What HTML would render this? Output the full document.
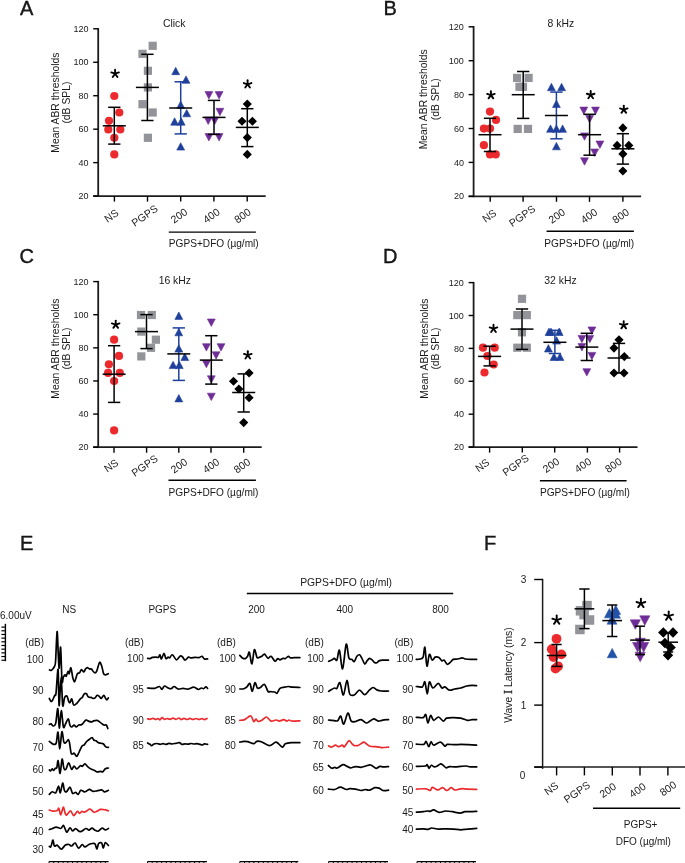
<!DOCTYPE html>
<html><head><meta charset="utf-8"><style>
html,body{margin:0;padding:0;background:#fff;width:685px;height:863px;overflow:hidden}
svg{display:block;will-change:transform}
text{font-family:"Liberation Sans",sans-serif;fill:#1a1a1a}
</style></head><body>
<svg width="685" height="863" viewBox="0 0 685 863">
<rect width="685" height="863" fill="#fff"/>
<line x1="98.20" y1="28.10" x2="98.20" y2="197.00" stroke="#1c1c1c" stroke-width="1.8" stroke-linecap="butt"/>
<line x1="93.20" y1="196.10" x2="265.70" y2="196.10" stroke="#1c1c1c" stroke-width="1.8" stroke-linecap="butt"/>
<line x1="93.20" y1="28.80" x2="98.20" y2="28.80" stroke="#000" stroke-width="1.4" stroke-linecap="butt"/>
<text x="88.50" y="31.90" font-size="9" text-anchor="end" >120</text>
<line x1="93.20" y1="62.26" x2="98.20" y2="62.26" stroke="#000" stroke-width="1.4" stroke-linecap="butt"/>
<text x="88.50" y="65.36" font-size="9" text-anchor="end" >100</text>
<line x1="93.20" y1="95.72" x2="98.20" y2="95.72" stroke="#000" stroke-width="1.4" stroke-linecap="butt"/>
<text x="88.50" y="98.82" font-size="9" text-anchor="end" >80</text>
<line x1="93.20" y1="129.18" x2="98.20" y2="129.18" stroke="#000" stroke-width="1.4" stroke-linecap="butt"/>
<text x="88.50" y="132.28" font-size="9" text-anchor="end" >60</text>
<line x1="93.20" y1="162.64" x2="98.20" y2="162.64" stroke="#000" stroke-width="1.4" stroke-linecap="butt"/>
<text x="88.50" y="165.74" font-size="9" text-anchor="end" >40</text>
<line x1="93.20" y1="196.10" x2="98.20" y2="196.10" stroke="#000" stroke-width="1.4" stroke-linecap="butt"/>
<text x="88.50" y="199.20" font-size="9" text-anchor="end" >20</text>
<line x1="114.40" y1="196.10" x2="114.40" y2="201.60" stroke="#000" stroke-width="1.4" stroke-linecap="butt"/>
<line x1="147.50" y1="196.10" x2="147.50" y2="201.60" stroke="#000" stroke-width="1.4" stroke-linecap="butt"/>
<line x1="180.70" y1="196.10" x2="180.70" y2="201.60" stroke="#000" stroke-width="1.4" stroke-linecap="butt"/>
<line x1="213.90" y1="196.10" x2="213.90" y2="201.60" stroke="#000" stroke-width="1.4" stroke-linecap="butt"/>
<line x1="247.20" y1="196.10" x2="247.20" y2="201.60" stroke="#000" stroke-width="1.4" stroke-linecap="butt"/>
<text x="113.60" y="218.70" font-size="10.5" text-anchor="middle" transform="rotate(-35 113.60 218.70)">NS</text>
<text x="146.70" y="218.70" font-size="10.5" text-anchor="middle" transform="rotate(-35 146.70 218.70)">PGPS</text>
<text x="181.10" y="218.70" font-size="10.5" text-anchor="middle" transform="rotate(-35 181.10 218.70)">200</text>
<text x="213.50" y="218.70" font-size="10.5" text-anchor="middle" transform="rotate(-35 213.50 218.70)">400</text>
<text x="244.60" y="218.70" font-size="10.5" text-anchor="middle" transform="rotate(-35 244.60 218.70)">800</text>
<line x1="168.80" y1="232.10" x2="255.90" y2="232.10" stroke="#000" stroke-width="1.4" stroke-linecap="butt"/>
<text x="168.80" y="246.60" font-size="10.15" text-anchor="start" >PGPS+DFO (µg/ml)</text>
<text x="174.15" y="27.20" font-size="10.4" text-anchor="middle" >Click</text>
<text x="19.90" y="14.60" font-size="20" text-anchor="start" stroke="#000" stroke-width="0.35">A</text>
<text x="58.90" y="102.60" font-size="10.35" text-anchor="middle" transform="rotate(-90 58.90 102.60)">Mean ABR thresholds</text>
<text x="70.50" y="102.60" font-size="10.35" text-anchor="middle" transform="rotate(-90 70.50 102.60)">(dB SPL)</text>
<circle cx="114.30" cy="96.00" r="4.1" fill="#ec2a2d"/>
<circle cx="119.30" cy="112.50" r="4.1" fill="#ec2a2d"/>
<circle cx="109.00" cy="120.80" r="4.1" fill="#ec2a2d"/>
<circle cx="108.30" cy="129.50" r="4.1" fill="#ec2a2d"/>
<circle cx="120.30" cy="129.50" r="4.1" fill="#ec2a2d"/>
<circle cx="114.30" cy="137.80" r="4.1" fill="#ec2a2d"/>
<circle cx="114.30" cy="154.40" r="4.1" fill="#ec2a2d"/>
<line x1="114.30" y1="107.30" x2="114.30" y2="144.10" stroke="#000" stroke-width="1.5" stroke-linecap="butt"/>
<line x1="108.15" y1="107.30" x2="120.45" y2="107.30" stroke="#000" stroke-width="1.5" stroke-linecap="butt"/>
<line x1="108.15" y1="144.10" x2="120.45" y2="144.10" stroke="#000" stroke-width="1.5" stroke-linecap="butt"/>
<line x1="102.80" y1="125.80" x2="125.80" y2="125.80" stroke="#000" stroke-width="1.5" stroke-linecap="butt"/>
<rect x="148.60" y="41.70" width="8.2" height="8.2" fill="#939499"/>
<rect x="138.40" y="49.70" width="8.2" height="8.2" fill="#939499"/>
<rect x="143.80" y="66.70" width="8.2" height="8.2" fill="#939499"/>
<rect x="143.80" y="83.30" width="8.2" height="8.2" fill="#939499"/>
<rect x="138.40" y="100.10" width="8.2" height="8.2" fill="#939499"/>
<rect x="148.60" y="108.40" width="8.2" height="8.2" fill="#939499"/>
<rect x="143.80" y="133.70" width="8.2" height="8.2" fill="#939499"/>
<line x1="147.40" y1="54.30" x2="147.40" y2="120.50" stroke="#000" stroke-width="1.5" stroke-linecap="butt"/>
<line x1="141.25" y1="54.30" x2="153.55" y2="54.30" stroke="#000" stroke-width="1.5" stroke-linecap="butt"/>
<line x1="141.25" y1="120.50" x2="153.55" y2="120.50" stroke="#000" stroke-width="1.5" stroke-linecap="butt"/>
<line x1="135.90" y1="87.40" x2="158.90" y2="87.40" stroke="#000" stroke-width="1.5" stroke-linecap="butt"/>
<polygon points="175.70,67.30 179.62,74.70 171.78,74.70" fill="#1e409a" stroke="#1e409a" stroke-width="0.6" stroke-linejoin="round"/>
<polygon points="186.00,75.90 189.92,83.30 182.08,83.30" fill="#1e409a" stroke="#1e409a" stroke-width="0.6" stroke-linejoin="round"/>
<polygon points="180.70,101.00 184.62,108.40 176.78,108.40" fill="#1e409a" stroke="#1e409a" stroke-width="0.6" stroke-linejoin="round"/>
<polygon points="186.70,109.40 190.62,116.80 182.78,116.80" fill="#1e409a" stroke="#1e409a" stroke-width="0.6" stroke-linejoin="round"/>
<polygon points="174.60,117.80 178.52,125.20 170.68,125.20" fill="#1e409a" stroke="#1e409a" stroke-width="0.6" stroke-linejoin="round"/>
<polygon points="181.20,117.80 185.12,125.20 177.28,125.20" fill="#1e409a" stroke="#1e409a" stroke-width="0.6" stroke-linejoin="round"/>
<polygon points="180.70,142.70 184.62,150.10 176.78,150.10" fill="#1e409a" stroke="#1e409a" stroke-width="0.6" stroke-linejoin="round"/>
<line x1="180.70" y1="81.80" x2="180.70" y2="133.90" stroke="#1e409a" stroke-width="1.5" stroke-linecap="butt"/>
<line x1="174.55" y1="81.80" x2="186.85" y2="81.80" stroke="#1e409a" stroke-width="1.5" stroke-linecap="butt"/>
<line x1="174.55" y1="133.90" x2="186.85" y2="133.90" stroke="#1e409a" stroke-width="1.5" stroke-linecap="butt"/>
<line x1="169.20" y1="108.00" x2="192.20" y2="108.00" stroke="#000" stroke-width="1.5" stroke-linecap="butt"/>
<polygon points="208.90,99.00 212.82,91.60 204.98,91.60" fill="#6f2d97" stroke="#6f2d97" stroke-width="0.6" stroke-linejoin="round"/>
<polygon points="219.10,99.00 223.02,91.60 215.18,91.60" fill="#6f2d97" stroke="#6f2d97" stroke-width="0.6" stroke-linejoin="round"/>
<polygon points="219.90,115.70 223.82,108.30 215.98,108.30" fill="#6f2d97" stroke="#6f2d97" stroke-width="0.6" stroke-linejoin="round"/>
<polygon points="208.20,124.50 212.12,117.10 204.28,117.10" fill="#6f2d97" stroke="#6f2d97" stroke-width="0.6" stroke-linejoin="round"/>
<polygon points="214.70,124.50 218.62,117.10 210.78,117.10" fill="#6f2d97" stroke="#6f2d97" stroke-width="0.6" stroke-linejoin="round"/>
<polygon points="208.90,141.00 212.82,133.60 204.98,133.60" fill="#6f2d97" stroke="#6f2d97" stroke-width="0.6" stroke-linejoin="round"/>
<polygon points="219.10,141.00 223.02,133.60 215.18,133.60" fill="#6f2d97" stroke="#6f2d97" stroke-width="0.6" stroke-linejoin="round"/>
<line x1="214.00" y1="100.40" x2="214.00" y2="134.40" stroke="#000" stroke-width="1.5" stroke-linecap="butt"/>
<line x1="207.85" y1="100.40" x2="220.15" y2="100.40" stroke="#000" stroke-width="1.5" stroke-linecap="butt"/>
<line x1="207.85" y1="134.40" x2="220.15" y2="134.40" stroke="#000" stroke-width="1.5" stroke-linecap="butt"/>
<line x1="202.50" y1="117.40" x2="225.50" y2="117.40" stroke="#000" stroke-width="1.5" stroke-linecap="butt"/>
<polygon points="247.30,99.45 251.85,104.00 247.30,108.55 242.75,104.00" fill="#000"/>
<polygon points="242.00,116.65 246.55,121.20 242.00,125.75 237.45,121.20" fill="#000"/>
<polygon points="252.40,116.65 256.95,121.20 252.40,125.75 247.85,121.20" fill="#000"/>
<polygon points="247.30,133.05 251.85,137.60 247.30,142.15 242.75,137.60" fill="#000"/>
<polygon points="247.30,149.85 251.85,154.40 247.30,158.95 242.75,154.40" fill="#000"/>
<line x1="247.30" y1="108.70" x2="247.30" y2="146.60" stroke="#000" stroke-width="1.5" stroke-linecap="butt"/>
<line x1="241.15" y1="108.70" x2="253.45" y2="108.70" stroke="#000" stroke-width="1.5" stroke-linecap="butt"/>
<line x1="241.15" y1="146.60" x2="253.45" y2="146.60" stroke="#000" stroke-width="1.5" stroke-linecap="butt"/>
<line x1="235.80" y1="127.40" x2="258.80" y2="127.40" stroke="#000" stroke-width="1.5" stroke-linecap="butt"/>
<line x1="115.10" y1="73.70" x2="115.10" y2="69.70" stroke="#000" stroke-width="1.9" stroke-linecap="round"/>
<line x1="115.10" y1="73.70" x2="118.90" y2="72.46" stroke="#000" stroke-width="1.9" stroke-linecap="round"/>
<line x1="115.10" y1="73.70" x2="117.45" y2="76.94" stroke="#000" stroke-width="1.9" stroke-linecap="round"/>
<line x1="115.10" y1="73.70" x2="112.75" y2="76.94" stroke="#000" stroke-width="1.9" stroke-linecap="round"/>
<line x1="115.10" y1="73.70" x2="111.30" y2="72.46" stroke="#000" stroke-width="1.9" stroke-linecap="round"/>
<line x1="247.60" y1="84.30" x2="247.60" y2="80.30" stroke="#000" stroke-width="1.9" stroke-linecap="round"/>
<line x1="247.60" y1="84.30" x2="251.40" y2="83.06" stroke="#000" stroke-width="1.9" stroke-linecap="round"/>
<line x1="247.60" y1="84.30" x2="249.95" y2="87.54" stroke="#000" stroke-width="1.9" stroke-linecap="round"/>
<line x1="247.60" y1="84.30" x2="245.25" y2="87.54" stroke="#000" stroke-width="1.9" stroke-linecap="round"/>
<line x1="247.60" y1="84.30" x2="243.80" y2="83.06" stroke="#000" stroke-width="1.9" stroke-linecap="round"/>
<line x1="473.60" y1="26.10" x2="473.60" y2="197.20" stroke="#1c1c1c" stroke-width="1.8" stroke-linecap="butt"/>
<line x1="468.60" y1="196.30" x2="641.10" y2="196.30" stroke="#1c1c1c" stroke-width="1.8" stroke-linecap="butt"/>
<line x1="468.60" y1="26.80" x2="473.60" y2="26.80" stroke="#000" stroke-width="1.4" stroke-linecap="butt"/>
<text x="463.90" y="29.90" font-size="9" text-anchor="end" >120</text>
<line x1="468.60" y1="60.70" x2="473.60" y2="60.70" stroke="#000" stroke-width="1.4" stroke-linecap="butt"/>
<text x="463.90" y="63.80" font-size="9" text-anchor="end" >100</text>
<line x1="468.60" y1="94.60" x2="473.60" y2="94.60" stroke="#000" stroke-width="1.4" stroke-linecap="butt"/>
<text x="463.90" y="97.70" font-size="9" text-anchor="end" >80</text>
<line x1="468.60" y1="128.50" x2="473.60" y2="128.50" stroke="#000" stroke-width="1.4" stroke-linecap="butt"/>
<text x="463.90" y="131.60" font-size="9" text-anchor="end" >60</text>
<line x1="468.60" y1="162.40" x2="473.60" y2="162.40" stroke="#000" stroke-width="1.4" stroke-linecap="butt"/>
<text x="463.90" y="165.50" font-size="9" text-anchor="end" >40</text>
<line x1="468.60" y1="196.30" x2="473.60" y2="196.30" stroke="#000" stroke-width="1.4" stroke-linecap="butt"/>
<text x="463.90" y="199.40" font-size="9" text-anchor="end" >20</text>
<line x1="490.20" y1="196.30" x2="490.20" y2="201.80" stroke="#000" stroke-width="1.4" stroke-linecap="butt"/>
<line x1="523.10" y1="196.30" x2="523.10" y2="201.80" stroke="#000" stroke-width="1.4" stroke-linecap="butt"/>
<line x1="556.50" y1="196.30" x2="556.50" y2="201.80" stroke="#000" stroke-width="1.4" stroke-linecap="butt"/>
<line x1="589.50" y1="196.30" x2="589.50" y2="201.80" stroke="#000" stroke-width="1.4" stroke-linecap="butt"/>
<line x1="622.90" y1="196.30" x2="622.90" y2="201.80" stroke="#000" stroke-width="1.4" stroke-linecap="butt"/>
<text x="491.40" y="218.90" font-size="10.5" text-anchor="middle" transform="rotate(-35 491.40 218.90)">NS</text>
<text x="524.30" y="218.90" font-size="10.5" text-anchor="middle" transform="rotate(-35 524.30 218.90)">PGPS</text>
<text x="558.90" y="218.90" font-size="10.5" text-anchor="middle" transform="rotate(-35 558.90 218.90)">200</text>
<text x="591.10" y="218.90" font-size="10.5" text-anchor="middle" transform="rotate(-35 591.10 218.90)">400</text>
<text x="622.80" y="218.90" font-size="10.5" text-anchor="middle" transform="rotate(-35 622.80 218.90)">800</text>
<line x1="546.60" y1="231.30" x2="633.90" y2="231.30" stroke="#000" stroke-width="1.4" stroke-linecap="butt"/>
<text x="544.30" y="246.90" font-size="10.15" text-anchor="start" >PGPS+DFO (µg/ml)</text>
<text x="560.80" y="27.30" font-size="10.4" text-anchor="middle" >8 kHz</text>
<text x="383.40" y="14.50" font-size="20" text-anchor="start" stroke="#000" stroke-width="0.35">B</text>
<text x="427.20" y="99.30" font-size="10.35" text-anchor="middle" transform="rotate(-90 427.20 99.30)">Mean ABR thresholds</text>
<text x="438.80" y="99.30" font-size="10.35" text-anchor="middle" transform="rotate(-90 438.80 99.30)">(dB SPL)</text>
<circle cx="490.00" cy="111.60" r="4.1" fill="#ec2a2d"/>
<circle cx="496.00" cy="119.90" r="4.1" fill="#ec2a2d"/>
<circle cx="483.90" cy="128.60" r="4.1" fill="#ec2a2d"/>
<circle cx="490.00" cy="128.60" r="4.1" fill="#ec2a2d"/>
<circle cx="483.90" cy="145.20" r="4.1" fill="#ec2a2d"/>
<circle cx="490.00" cy="154.40" r="4.1" fill="#ec2a2d"/>
<circle cx="495.70" cy="154.40" r="4.1" fill="#ec2a2d"/>
<line x1="490.00" y1="118.30" x2="490.00" y2="151.50" stroke="#000" stroke-width="1.5" stroke-linecap="butt"/>
<line x1="483.85" y1="118.30" x2="496.15" y2="118.30" stroke="#000" stroke-width="1.5" stroke-linecap="butt"/>
<line x1="483.85" y1="151.50" x2="496.15" y2="151.50" stroke="#000" stroke-width="1.5" stroke-linecap="butt"/>
<line x1="478.50" y1="134.70" x2="501.50" y2="134.70" stroke="#000" stroke-width="1.5" stroke-linecap="butt"/>
<rect x="513.00" y="73.80" width="8.2" height="8.2" fill="#939499"/>
<rect x="524.50" y="73.80" width="8.2" height="8.2" fill="#939499"/>
<rect x="515.40" y="82.70" width="8.2" height="8.2" fill="#939499"/>
<rect x="518.90" y="82.70" width="8.2" height="8.2" fill="#939499"/>
<rect x="513.60" y="124.80" width="8.2" height="8.2" fill="#939499"/>
<rect x="523.90" y="124.80" width="8.2" height="8.2" fill="#939499"/>
<line x1="523.20" y1="71.50" x2="523.20" y2="118.40" stroke="#000" stroke-width="1.5" stroke-linecap="butt"/>
<line x1="517.05" y1="71.50" x2="529.35" y2="71.50" stroke="#000" stroke-width="1.5" stroke-linecap="butt"/>
<line x1="517.05" y1="118.40" x2="529.35" y2="118.40" stroke="#000" stroke-width="1.5" stroke-linecap="butt"/>
<line x1="511.70" y1="94.70" x2="534.70" y2="94.70" stroke="#000" stroke-width="1.5" stroke-linecap="butt"/>
<polygon points="551.40,83.30 555.32,90.70 547.48,90.70" fill="#1e409a" stroke="#1e409a" stroke-width="0.6" stroke-linejoin="round"/>
<polygon points="561.60,83.30 565.52,90.70 557.68,90.70" fill="#1e409a" stroke="#1e409a" stroke-width="0.6" stroke-linejoin="round"/>
<polygon points="556.40,100.10 560.32,107.50 552.48,107.50" fill="#1e409a" stroke="#1e409a" stroke-width="0.6" stroke-linejoin="round"/>
<polygon points="550.50,124.90 554.42,132.30 546.58,132.30" fill="#1e409a" stroke="#1e409a" stroke-width="0.6" stroke-linejoin="round"/>
<polygon points="556.40,124.90 560.32,132.30 552.48,132.30" fill="#1e409a" stroke="#1e409a" stroke-width="0.6" stroke-linejoin="round"/>
<polygon points="562.60,124.90 566.52,132.30 558.68,132.30" fill="#1e409a" stroke="#1e409a" stroke-width="0.6" stroke-linejoin="round"/>
<polygon points="556.40,142.40 560.32,149.80 552.48,149.80" fill="#1e409a" stroke="#1e409a" stroke-width="0.6" stroke-linejoin="round"/>
<line x1="556.40" y1="92.10" x2="556.40" y2="138.80" stroke="#1e409a" stroke-width="1.5" stroke-linecap="butt"/>
<line x1="550.25" y1="92.10" x2="562.55" y2="92.10" stroke="#1e409a" stroke-width="1.5" stroke-linecap="butt"/>
<line x1="550.25" y1="138.80" x2="562.55" y2="138.80" stroke="#1e409a" stroke-width="1.5" stroke-linecap="butt"/>
<line x1="544.90" y1="115.50" x2="567.90" y2="115.50" stroke="#000" stroke-width="1.5" stroke-linecap="butt"/>
<polygon points="583.80,114.50 587.72,107.10 579.88,107.10" fill="#6f2d97" stroke="#6f2d97" stroke-width="0.6" stroke-linejoin="round"/>
<polygon points="595.50,114.50 599.42,107.10 591.58,107.10" fill="#6f2d97" stroke="#6f2d97" stroke-width="0.6" stroke-linejoin="round"/>
<polygon points="589.60,122.80 593.52,115.40 585.68,115.40" fill="#6f2d97" stroke="#6f2d97" stroke-width="0.6" stroke-linejoin="round"/>
<polygon points="584.50,140.30 588.42,132.90 580.58,132.90" fill="#6f2d97" stroke="#6f2d97" stroke-width="0.6" stroke-linejoin="round"/>
<polygon points="599.90,148.40 603.82,141.00 595.98,141.00" fill="#6f2d97" stroke="#6f2d97" stroke-width="0.6" stroke-linejoin="round"/>
<polygon points="594.70,156.40 598.62,149.00 590.78,149.00" fill="#6f2d97" stroke="#6f2d97" stroke-width="0.6" stroke-linejoin="round"/>
<polygon points="584.50,165.20 588.42,157.80 580.58,157.80" fill="#6f2d97" stroke="#6f2d97" stroke-width="0.6" stroke-linejoin="round"/>
<line x1="589.60" y1="114.30" x2="589.60" y2="155.20" stroke="#000" stroke-width="1.5" stroke-linecap="butt"/>
<line x1="583.45" y1="114.30" x2="595.75" y2="114.30" stroke="#000" stroke-width="1.5" stroke-linecap="butt"/>
<line x1="583.45" y1="155.20" x2="595.75" y2="155.20" stroke="#000" stroke-width="1.5" stroke-linecap="butt"/>
<line x1="578.10" y1="134.70" x2="601.10" y2="134.70" stroke="#000" stroke-width="1.5" stroke-linecap="butt"/>
<polygon points="622.90,123.35 627.45,127.90 622.90,132.45 618.35,127.90" fill="#000"/>
<polygon points="617.10,140.85 621.65,145.40 617.10,149.95 612.55,145.40" fill="#000"/>
<polygon points="628.80,140.85 633.35,145.40 628.80,149.95 624.25,145.40" fill="#000"/>
<polygon points="622.90,149.35 627.45,153.90 622.90,158.45 618.35,153.90" fill="#000"/>
<polygon points="622.90,166.45 627.45,171.00 622.90,175.55 618.35,171.00" fill="#000"/>
<line x1="622.90" y1="133.70" x2="622.90" y2="164.10" stroke="#000" stroke-width="1.5" stroke-linecap="butt"/>
<line x1="616.75" y1="133.70" x2="629.05" y2="133.70" stroke="#000" stroke-width="1.5" stroke-linecap="butt"/>
<line x1="616.75" y1="164.10" x2="629.05" y2="164.10" stroke="#000" stroke-width="1.5" stroke-linecap="butt"/>
<line x1="611.40" y1="148.80" x2="634.40" y2="148.80" stroke="#000" stroke-width="1.5" stroke-linecap="butt"/>
<line x1="490.90" y1="95.10" x2="490.90" y2="91.10" stroke="#000" stroke-width="1.9" stroke-linecap="round"/>
<line x1="490.90" y1="95.10" x2="494.70" y2="93.86" stroke="#000" stroke-width="1.9" stroke-linecap="round"/>
<line x1="490.90" y1="95.10" x2="493.25" y2="98.34" stroke="#000" stroke-width="1.9" stroke-linecap="round"/>
<line x1="490.90" y1="95.10" x2="488.55" y2="98.34" stroke="#000" stroke-width="1.9" stroke-linecap="round"/>
<line x1="490.90" y1="95.10" x2="487.10" y2="93.86" stroke="#000" stroke-width="1.9" stroke-linecap="round"/>
<line x1="590.70" y1="95.00" x2="590.70" y2="91.00" stroke="#000" stroke-width="1.9" stroke-linecap="round"/>
<line x1="590.70" y1="95.00" x2="594.50" y2="93.76" stroke="#000" stroke-width="1.9" stroke-linecap="round"/>
<line x1="590.70" y1="95.00" x2="593.05" y2="98.24" stroke="#000" stroke-width="1.9" stroke-linecap="round"/>
<line x1="590.70" y1="95.00" x2="588.35" y2="98.24" stroke="#000" stroke-width="1.9" stroke-linecap="round"/>
<line x1="590.70" y1="95.00" x2="586.90" y2="93.76" stroke="#000" stroke-width="1.9" stroke-linecap="round"/>
<line x1="623.80" y1="109.60" x2="623.80" y2="105.60" stroke="#000" stroke-width="1.9" stroke-linecap="round"/>
<line x1="623.80" y1="109.60" x2="627.60" y2="108.36" stroke="#000" stroke-width="1.9" stroke-linecap="round"/>
<line x1="623.80" y1="109.60" x2="626.15" y2="112.84" stroke="#000" stroke-width="1.9" stroke-linecap="round"/>
<line x1="623.80" y1="109.60" x2="621.45" y2="112.84" stroke="#000" stroke-width="1.9" stroke-linecap="round"/>
<line x1="623.80" y1="109.60" x2="620.00" y2="108.36" stroke="#000" stroke-width="1.9" stroke-linecap="round"/>
<line x1="98.20" y1="280.90" x2="98.20" y2="448.10" stroke="#1c1c1c" stroke-width="1.8" stroke-linecap="butt"/>
<line x1="93.20" y1="447.20" x2="261.70" y2="447.20" stroke="#1c1c1c" stroke-width="1.8" stroke-linecap="butt"/>
<line x1="93.20" y1="281.60" x2="98.20" y2="281.60" stroke="#000" stroke-width="1.4" stroke-linecap="butt"/>
<text x="88.50" y="284.70" font-size="9" text-anchor="end" >120</text>
<line x1="93.20" y1="314.72" x2="98.20" y2="314.72" stroke="#000" stroke-width="1.4" stroke-linecap="butt"/>
<text x="88.50" y="317.82" font-size="9" text-anchor="end" >100</text>
<line x1="93.20" y1="347.84" x2="98.20" y2="347.84" stroke="#000" stroke-width="1.4" stroke-linecap="butt"/>
<text x="88.50" y="350.94" font-size="9" text-anchor="end" >80</text>
<line x1="93.20" y1="380.96" x2="98.20" y2="380.96" stroke="#000" stroke-width="1.4" stroke-linecap="butt"/>
<text x="88.50" y="384.06" font-size="9" text-anchor="end" >60</text>
<line x1="93.20" y1="414.08" x2="98.20" y2="414.08" stroke="#000" stroke-width="1.4" stroke-linecap="butt"/>
<text x="88.50" y="417.18" font-size="9" text-anchor="end" >40</text>
<line x1="93.20" y1="447.20" x2="98.20" y2="447.20" stroke="#000" stroke-width="1.4" stroke-linecap="butt"/>
<text x="88.50" y="450.30" font-size="9" text-anchor="end" >20</text>
<line x1="114.00" y1="447.20" x2="114.00" y2="452.70" stroke="#000" stroke-width="1.4" stroke-linecap="butt"/>
<line x1="146.60" y1="447.20" x2="146.60" y2="452.70" stroke="#000" stroke-width="1.4" stroke-linecap="butt"/>
<line x1="178.80" y1="447.20" x2="178.80" y2="452.70" stroke="#000" stroke-width="1.4" stroke-linecap="butt"/>
<line x1="211.00" y1="447.20" x2="211.00" y2="452.70" stroke="#000" stroke-width="1.4" stroke-linecap="butt"/>
<line x1="243.70" y1="447.20" x2="243.70" y2="452.70" stroke="#000" stroke-width="1.4" stroke-linecap="butt"/>
<text x="113.20" y="468.60" font-size="10.5" text-anchor="middle" transform="rotate(-35 113.20 468.60)">NS</text>
<text x="146.80" y="468.60" font-size="10.5" text-anchor="middle" transform="rotate(-35 146.80 468.60)">PGPS</text>
<text x="181.20" y="468.60" font-size="10.5" text-anchor="middle" transform="rotate(-35 181.20 468.60)">200</text>
<text x="213.10" y="468.60" font-size="10.5" text-anchor="middle" transform="rotate(-35 213.10 468.60)">400</text>
<text x="244.10" y="468.60" font-size="10.5" text-anchor="middle" transform="rotate(-35 244.10 468.60)">800</text>
<line x1="168.50" y1="480.30" x2="255.90" y2="480.30" stroke="#000" stroke-width="1.4" stroke-linecap="butt"/>
<text x="168.50" y="495.80" font-size="10.15" text-anchor="start" >PGPS+DFO (µg/ml)</text>
<text x="174.85" y="284.40" font-size="10.4" text-anchor="middle" >16 kHz</text>
<text x="19.60" y="262.60" font-size="20" text-anchor="start" stroke="#000" stroke-width="0.35">C</text>
<text x="58.90" y="348.60" font-size="10.35" text-anchor="middle" transform="rotate(-90 58.90 348.60)">Mean ABR thresholds</text>
<text x="70.50" y="348.60" font-size="10.35" text-anchor="middle" transform="rotate(-90 70.50 348.60)">(dB SPL)</text>
<circle cx="114.10" cy="339.70" r="4.1" fill="#ec2a2d"/>
<circle cx="119.00" cy="355.90" r="4.1" fill="#ec2a2d"/>
<circle cx="108.90" cy="364.30" r="4.1" fill="#ec2a2d"/>
<circle cx="108.10" cy="372.90" r="4.1" fill="#ec2a2d"/>
<circle cx="119.80" cy="372.90" r="4.1" fill="#ec2a2d"/>
<circle cx="114.10" cy="381.00" r="4.1" fill="#ec2a2d"/>
<circle cx="114.10" cy="430.40" r="4.1" fill="#ec2a2d"/>
<line x1="114.10" y1="345.70" x2="114.10" y2="402.40" stroke="#000" stroke-width="1.5" stroke-linecap="butt"/>
<line x1="107.95" y1="345.70" x2="120.25" y2="345.70" stroke="#000" stroke-width="1.5" stroke-linecap="butt"/>
<line x1="107.95" y1="402.40" x2="120.25" y2="402.40" stroke="#000" stroke-width="1.5" stroke-linecap="butt"/>
<line x1="102.60" y1="374.20" x2="125.60" y2="374.20" stroke="#000" stroke-width="1.5" stroke-linecap="butt"/>
<rect x="136.90" y="310.90" width="8.2" height="8.2" fill="#939499"/>
<rect x="147.70" y="310.90" width="8.2" height="8.2" fill="#939499"/>
<rect x="137.20" y="327.50" width="8.2" height="8.2" fill="#939499"/>
<rect x="151.80" y="335.60" width="8.2" height="8.2" fill="#939499"/>
<rect x="146.90" y="343.70" width="8.2" height="8.2" fill="#939499"/>
<rect x="137.20" y="352.30" width="8.2" height="8.2" fill="#939499"/>
<line x1="146.50" y1="314.60" x2="146.50" y2="348.60" stroke="#000" stroke-width="1.5" stroke-linecap="butt"/>
<line x1="140.35" y1="314.60" x2="152.65" y2="314.60" stroke="#000" stroke-width="1.5" stroke-linecap="butt"/>
<line x1="140.35" y1="348.60" x2="152.65" y2="348.60" stroke="#000" stroke-width="1.5" stroke-linecap="butt"/>
<line x1="135.00" y1="331.60" x2="158.00" y2="331.60" stroke="#000" stroke-width="1.5" stroke-linecap="butt"/>
<polygon points="178.80,312.00 182.72,319.40 174.88,319.40" fill="#1e409a" stroke="#1e409a" stroke-width="0.6" stroke-linejoin="round"/>
<polygon points="178.80,328.40 182.72,335.80 174.88,335.80" fill="#1e409a" stroke="#1e409a" stroke-width="0.6" stroke-linejoin="round"/>
<polygon points="178.80,344.70 182.72,352.10 174.88,352.10" fill="#1e409a" stroke="#1e409a" stroke-width="0.6" stroke-linejoin="round"/>
<polygon points="184.80,353.10 188.72,360.50 180.88,360.50" fill="#1e409a" stroke="#1e409a" stroke-width="0.6" stroke-linejoin="round"/>
<polygon points="173.10,361.20 177.02,368.60 169.18,368.60" fill="#1e409a" stroke="#1e409a" stroke-width="0.6" stroke-linejoin="round"/>
<polygon points="179.30,361.20 183.22,368.60 175.38,368.60" fill="#1e409a" stroke="#1e409a" stroke-width="0.6" stroke-linejoin="round"/>
<polygon points="178.80,394.50 182.72,401.90 174.88,401.90" fill="#1e409a" stroke="#1e409a" stroke-width="0.6" stroke-linejoin="round"/>
<line x1="178.80" y1="327.90" x2="178.80" y2="380.40" stroke="#1e409a" stroke-width="1.5" stroke-linecap="butt"/>
<line x1="172.65" y1="327.90" x2="184.95" y2="327.90" stroke="#1e409a" stroke-width="1.5" stroke-linecap="butt"/>
<line x1="172.65" y1="380.40" x2="184.95" y2="380.40" stroke="#1e409a" stroke-width="1.5" stroke-linecap="butt"/>
<line x1="167.30" y1="353.90" x2="190.30" y2="353.90" stroke="#000" stroke-width="1.5" stroke-linecap="butt"/>
<polygon points="211.30,326.40 215.22,319.00 207.38,319.00" fill="#6f2d97" stroke="#6f2d97" stroke-width="0.6" stroke-linejoin="round"/>
<polygon points="206.40,351.10 210.32,343.70 202.48,343.70" fill="#6f2d97" stroke="#6f2d97" stroke-width="0.6" stroke-linejoin="round"/>
<polygon points="221.00,351.10 224.92,343.70 217.08,343.70" fill="#6f2d97" stroke="#6f2d97" stroke-width="0.6" stroke-linejoin="round"/>
<polygon points="216.10,359.20 220.02,351.80 212.18,351.80" fill="#6f2d97" stroke="#6f2d97" stroke-width="0.6" stroke-linejoin="round"/>
<polygon points="206.40,367.80 210.32,360.40 202.48,360.40" fill="#6f2d97" stroke="#6f2d97" stroke-width="0.6" stroke-linejoin="round"/>
<polygon points="211.30,383.20 215.22,375.80 207.38,375.80" fill="#6f2d97" stroke="#6f2d97" stroke-width="0.6" stroke-linejoin="round"/>
<polygon points="211.30,400.60 215.22,393.20 207.38,393.20" fill="#6f2d97" stroke="#6f2d97" stroke-width="0.6" stroke-linejoin="round"/>
<line x1="211.30" y1="335.70" x2="211.30" y2="384.10" stroke="#000" stroke-width="1.5" stroke-linecap="butt"/>
<line x1="205.15" y1="335.70" x2="217.45" y2="335.70" stroke="#000" stroke-width="1.5" stroke-linecap="butt"/>
<line x1="205.15" y1="384.10" x2="217.45" y2="384.10" stroke="#000" stroke-width="1.5" stroke-linecap="butt"/>
<line x1="199.80" y1="360.10" x2="222.80" y2="360.10" stroke="#000" stroke-width="1.5" stroke-linecap="butt"/>
<polygon points="249.10,368.45 253.65,373.00 249.10,377.55 244.55,373.00" fill="#000"/>
<polygon points="233.50,376.65 238.05,381.20 233.50,385.75 228.95,381.20" fill="#000"/>
<polygon points="238.90,384.45 243.45,389.00 238.90,393.55 234.35,389.00" fill="#000"/>
<polygon points="249.10,393.15 253.65,397.70 249.10,402.25 244.55,397.70" fill="#000"/>
<polygon points="243.70,418.05 248.25,422.60 243.70,427.15 239.15,422.60" fill="#000"/>
<line x1="243.70" y1="373.90" x2="243.70" y2="412.00" stroke="#000" stroke-width="1.5" stroke-linecap="butt"/>
<line x1="237.55" y1="373.90" x2="249.85" y2="373.90" stroke="#000" stroke-width="1.5" stroke-linecap="butt"/>
<line x1="237.55" y1="412.00" x2="249.85" y2="412.00" stroke="#000" stroke-width="1.5" stroke-linecap="butt"/>
<line x1="232.20" y1="392.50" x2="255.20" y2="392.50" stroke="#000" stroke-width="1.5" stroke-linecap="butt"/>
<line x1="115.70" y1="324.60" x2="115.70" y2="320.60" stroke="#000" stroke-width="1.9" stroke-linecap="round"/>
<line x1="115.70" y1="324.60" x2="119.50" y2="323.36" stroke="#000" stroke-width="1.9" stroke-linecap="round"/>
<line x1="115.70" y1="324.60" x2="118.05" y2="327.84" stroke="#000" stroke-width="1.9" stroke-linecap="round"/>
<line x1="115.70" y1="324.60" x2="113.35" y2="327.84" stroke="#000" stroke-width="1.9" stroke-linecap="round"/>
<line x1="115.70" y1="324.60" x2="111.90" y2="323.36" stroke="#000" stroke-width="1.9" stroke-linecap="round"/>
<line x1="247.80" y1="355.20" x2="247.80" y2="351.20" stroke="#000" stroke-width="1.9" stroke-linecap="round"/>
<line x1="247.80" y1="355.20" x2="251.60" y2="353.96" stroke="#000" stroke-width="1.9" stroke-linecap="round"/>
<line x1="247.80" y1="355.20" x2="250.15" y2="358.44" stroke="#000" stroke-width="1.9" stroke-linecap="round"/>
<line x1="247.80" y1="355.20" x2="245.45" y2="358.44" stroke="#000" stroke-width="1.9" stroke-linecap="round"/>
<line x1="247.80" y1="355.20" x2="244.00" y2="353.96" stroke="#000" stroke-width="1.9" stroke-linecap="round"/>
<line x1="473.60" y1="281.90" x2="473.60" y2="448.00" stroke="#1c1c1c" stroke-width="1.8" stroke-linecap="butt"/>
<line x1="468.60" y1="447.10" x2="637.50" y2="447.10" stroke="#1c1c1c" stroke-width="1.8" stroke-linecap="butt"/>
<line x1="468.60" y1="282.60" x2="473.60" y2="282.60" stroke="#000" stroke-width="1.4" stroke-linecap="butt"/>
<text x="463.90" y="285.70" font-size="9" text-anchor="end" >120</text>
<line x1="468.60" y1="315.50" x2="473.60" y2="315.50" stroke="#000" stroke-width="1.4" stroke-linecap="butt"/>
<text x="463.90" y="318.60" font-size="9" text-anchor="end" >100</text>
<line x1="468.60" y1="348.40" x2="473.60" y2="348.40" stroke="#000" stroke-width="1.4" stroke-linecap="butt"/>
<text x="463.90" y="351.50" font-size="9" text-anchor="end" >80</text>
<line x1="468.60" y1="381.30" x2="473.60" y2="381.30" stroke="#000" stroke-width="1.4" stroke-linecap="butt"/>
<text x="463.90" y="384.40" font-size="9" text-anchor="end" >60</text>
<line x1="468.60" y1="414.20" x2="473.60" y2="414.20" stroke="#000" stroke-width="1.4" stroke-linecap="butt"/>
<text x="463.90" y="417.30" font-size="9" text-anchor="end" >40</text>
<line x1="468.60" y1="447.10" x2="473.60" y2="447.10" stroke="#000" stroke-width="1.4" stroke-linecap="butt"/>
<text x="463.90" y="450.20" font-size="9" text-anchor="end" >20</text>
<line x1="489.60" y1="447.10" x2="489.60" y2="452.60" stroke="#000" stroke-width="1.4" stroke-linecap="butt"/>
<line x1="522.30" y1="447.10" x2="522.30" y2="452.60" stroke="#000" stroke-width="1.4" stroke-linecap="butt"/>
<line x1="554.70" y1="447.10" x2="554.70" y2="452.60" stroke="#000" stroke-width="1.4" stroke-linecap="butt"/>
<line x1="587.40" y1="447.10" x2="587.40" y2="452.60" stroke="#000" stroke-width="1.4" stroke-linecap="butt"/>
<line x1="619.60" y1="447.10" x2="619.60" y2="452.60" stroke="#000" stroke-width="1.4" stroke-linecap="butt"/>
<text x="484.40" y="468.20" font-size="10.5" text-anchor="middle" transform="rotate(-35 484.40 468.20)">NS</text>
<text x="517.80" y="468.20" font-size="10.5" text-anchor="middle" transform="rotate(-35 517.80 468.20)">PGPS</text>
<text x="553.10" y="468.20" font-size="10.5" text-anchor="middle" transform="rotate(-35 553.10 468.20)">200</text>
<text x="585.00" y="468.20" font-size="10.5" text-anchor="middle" transform="rotate(-35 585.00 468.20)">400</text>
<text x="615.50" y="468.20" font-size="10.5" text-anchor="middle" transform="rotate(-35 615.50 468.20)">800</text>
<line x1="539.90" y1="480.80" x2="626.60" y2="480.80" stroke="#000" stroke-width="1.4" stroke-linecap="butt"/>
<text x="539.90" y="496.10" font-size="10.15" text-anchor="start" >PGPS+DFO (µg/ml)</text>
<text x="560.45" y="284.40" font-size="10.4" text-anchor="middle" >32 kHz</text>
<text x="382.90" y="262.60" font-size="20" text-anchor="start" stroke="#000" stroke-width="0.35">D</text>
<text x="427.60" y="348.60" font-size="10.35" text-anchor="middle" transform="rotate(-90 427.60 348.60)">Mean ABR thresholds</text>
<text x="439.20" y="348.60" font-size="10.35" text-anchor="middle" transform="rotate(-90 439.20 348.60)">(dB SPL)</text>
<circle cx="483.00" cy="347.70" r="4.1" fill="#ec2a2d"/>
<circle cx="494.70" cy="347.70" r="4.1" fill="#ec2a2d"/>
<circle cx="487.40" cy="356.00" r="4.1" fill="#ec2a2d"/>
<circle cx="493.70" cy="364.50" r="4.1" fill="#ec2a2d"/>
<circle cx="484.50" cy="372.50" r="4.1" fill="#ec2a2d"/>
<line x1="489.60" y1="346.20" x2="489.60" y2="365.90" stroke="#000" stroke-width="1.5" stroke-linecap="butt"/>
<line x1="483.45" y1="346.20" x2="495.75" y2="346.20" stroke="#000" stroke-width="1.5" stroke-linecap="butt"/>
<line x1="483.45" y1="365.90" x2="495.75" y2="365.90" stroke="#000" stroke-width="1.5" stroke-linecap="butt"/>
<line x1="478.10" y1="356.40" x2="501.10" y2="356.40" stroke="#000" stroke-width="1.5" stroke-linecap="butt"/>
<rect x="517.90" y="294.70" width="8.2" height="8.2" fill="#939499"/>
<rect x="513.20" y="311.00" width="8.2" height="8.2" fill="#939499"/>
<rect x="522.70" y="311.00" width="8.2" height="8.2" fill="#939499"/>
<rect x="517.90" y="328.20" width="8.2" height="8.2" fill="#939499"/>
<rect x="513.20" y="343.60" width="8.2" height="8.2" fill="#939499"/>
<rect x="522.70" y="343.60" width="8.2" height="8.2" fill="#939499"/>
<line x1="522.00" y1="309.00" x2="522.00" y2="349.40" stroke="#000" stroke-width="1.5" stroke-linecap="butt"/>
<line x1="515.85" y1="309.00" x2="528.15" y2="309.00" stroke="#000" stroke-width="1.5" stroke-linecap="butt"/>
<line x1="515.85" y1="349.40" x2="528.15" y2="349.40" stroke="#000" stroke-width="1.5" stroke-linecap="butt"/>
<line x1="510.50" y1="329.10" x2="533.50" y2="329.10" stroke="#000" stroke-width="1.5" stroke-linecap="butt"/>
<polygon points="549.00,328.10 552.92,335.50 545.08,335.50" fill="#1e409a" stroke="#1e409a" stroke-width="0.6" stroke-linejoin="round"/>
<polygon points="551.00,328.10 554.92,335.50 547.08,335.50" fill="#1e409a" stroke="#1e409a" stroke-width="0.6" stroke-linejoin="round"/>
<polygon points="559.20,328.10 563.12,335.50 555.28,335.50" fill="#1e409a" stroke="#1e409a" stroke-width="0.6" stroke-linejoin="round"/>
<polygon points="556.60,336.70 560.52,344.10 552.68,344.10" fill="#1e409a" stroke="#1e409a" stroke-width="0.6" stroke-linejoin="round"/>
<polygon points="548.40,344.60 552.32,352.00 544.48,352.00" fill="#1e409a" stroke="#1e409a" stroke-width="0.6" stroke-linejoin="round"/>
<polygon points="554.00,353.10 557.92,360.50 550.08,360.50" fill="#1e409a" stroke="#1e409a" stroke-width="0.6" stroke-linejoin="round"/>
<polygon points="560.00,353.10 563.92,360.50 556.08,360.50" fill="#1e409a" stroke="#1e409a" stroke-width="0.6" stroke-linejoin="round"/>
<line x1="554.90" y1="330.30" x2="554.90" y2="353.50" stroke="#1e409a" stroke-width="1.5" stroke-linecap="butt"/>
<line x1="548.75" y1="330.30" x2="561.05" y2="330.30" stroke="#1e409a" stroke-width="1.5" stroke-linecap="butt"/>
<line x1="548.75" y1="353.50" x2="561.05" y2="353.50" stroke="#1e409a" stroke-width="1.5" stroke-linecap="butt"/>
<line x1="543.40" y1="342.30" x2="566.40" y2="342.30" stroke="#000" stroke-width="1.5" stroke-linecap="butt"/>
<polygon points="591.90,334.30 595.82,326.90 587.98,326.90" fill="#6f2d97" stroke="#6f2d97" stroke-width="0.6" stroke-linejoin="round"/>
<polygon points="581.90,342.80 585.82,335.40 577.98,335.40" fill="#6f2d97" stroke="#6f2d97" stroke-width="0.6" stroke-linejoin="round"/>
<polygon points="589.80,342.80 593.72,335.40 585.88,335.40" fill="#6f2d97" stroke="#6f2d97" stroke-width="0.6" stroke-linejoin="round"/>
<polygon points="581.90,351.00 585.82,343.60 577.98,343.60" fill="#6f2d97" stroke="#6f2d97" stroke-width="0.6" stroke-linejoin="round"/>
<polygon points="591.90,359.80 595.82,352.40 587.98,352.40" fill="#6f2d97" stroke="#6f2d97" stroke-width="0.6" stroke-linejoin="round"/>
<polygon points="586.80,376.10 590.72,368.70 582.88,368.70" fill="#6f2d97" stroke="#6f2d97" stroke-width="0.6" stroke-linejoin="round"/>
<line x1="586.80" y1="333.30" x2="586.80" y2="360.50" stroke="#000" stroke-width="1.5" stroke-linecap="butt"/>
<line x1="580.65" y1="333.30" x2="592.95" y2="333.30" stroke="#000" stroke-width="1.5" stroke-linecap="butt"/>
<line x1="580.65" y1="360.50" x2="592.95" y2="360.50" stroke="#000" stroke-width="1.5" stroke-linecap="butt"/>
<line x1="575.30" y1="347.10" x2="598.30" y2="347.10" stroke="#000" stroke-width="1.5" stroke-linecap="butt"/>
<polygon points="619.00,335.15 623.55,339.70 619.00,344.25 614.45,339.70" fill="#000"/>
<polygon points="614.00,343.55 618.55,348.10 614.00,352.65 609.45,348.10" fill="#000"/>
<polygon points="624.30,352.05 628.85,356.60 624.30,361.15 619.75,356.60" fill="#000"/>
<polygon points="614.00,368.45 618.55,373.00 614.00,377.55 609.45,373.00" fill="#000"/>
<polygon points="624.00,368.45 628.55,373.00 624.00,377.55 619.45,373.00" fill="#000"/>
<line x1="619.00" y1="343.40" x2="619.00" y2="373.00" stroke="#000" stroke-width="1.5" stroke-linecap="butt"/>
<line x1="612.85" y1="343.40" x2="625.15" y2="343.40" stroke="#000" stroke-width="1.5" stroke-linecap="butt"/>
<line x1="612.85" y1="373.00" x2="625.15" y2="373.00" stroke="#000" stroke-width="1.5" stroke-linecap="butt"/>
<line x1="607.50" y1="358.00" x2="630.50" y2="358.00" stroke="#000" stroke-width="1.5" stroke-linecap="butt"/>
<line x1="493.50" y1="328.70" x2="493.50" y2="324.70" stroke="#000" stroke-width="1.9" stroke-linecap="round"/>
<line x1="493.50" y1="328.70" x2="497.30" y2="327.46" stroke="#000" stroke-width="1.9" stroke-linecap="round"/>
<line x1="493.50" y1="328.70" x2="495.85" y2="331.94" stroke="#000" stroke-width="1.9" stroke-linecap="round"/>
<line x1="493.50" y1="328.70" x2="491.15" y2="331.94" stroke="#000" stroke-width="1.9" stroke-linecap="round"/>
<line x1="493.50" y1="328.70" x2="489.70" y2="327.46" stroke="#000" stroke-width="1.9" stroke-linecap="round"/>
<line x1="623.70" y1="325.10" x2="623.70" y2="321.10" stroke="#000" stroke-width="1.9" stroke-linecap="round"/>
<line x1="623.70" y1="325.10" x2="627.50" y2="323.86" stroke="#000" stroke-width="1.9" stroke-linecap="round"/>
<line x1="623.70" y1="325.10" x2="626.05" y2="328.34" stroke="#000" stroke-width="1.9" stroke-linecap="round"/>
<line x1="623.70" y1="325.10" x2="621.35" y2="328.34" stroke="#000" stroke-width="1.9" stroke-linecap="round"/>
<line x1="623.70" y1="325.10" x2="619.90" y2="323.86" stroke="#000" stroke-width="1.9" stroke-linecap="round"/>
<line x1="542.60" y1="578.80" x2="542.60" y2="768.90" stroke="#1c1c1c" stroke-width="1.5" stroke-linecap="butt"/>
<line x1="534.20" y1="767.10" x2="685.00" y2="767.10" stroke="#1c1c1c" stroke-width="1.5" stroke-linecap="butt"/>
<line x1="534.20" y1="579.50" x2="542.60" y2="579.50" stroke="#000" stroke-width="1.4" stroke-linecap="butt"/>
<line x1="534.20" y1="642.60" x2="542.60" y2="642.60" stroke="#000" stroke-width="1.4" stroke-linecap="butt"/>
<line x1="534.20" y1="705.10" x2="542.60" y2="705.10" stroke="#000" stroke-width="1.4" stroke-linecap="butt"/>
<line x1="534.20" y1="767.10" x2="542.60" y2="767.10" stroke="#000" stroke-width="1.4" stroke-linecap="butt"/>
<text x="526.20" y="583.10" font-size="10" text-anchor="end" >3</text>
<text x="526.20" y="646.20" font-size="10" text-anchor="end" >2</text>
<text x="526.20" y="708.70" font-size="10" text-anchor="end" >1</text>
<text x="525.30" y="778.60" font-size="10" text-anchor="end" >0</text>
<line x1="556.60" y1="767.10" x2="556.60" y2="775.40" stroke="#000" stroke-width="1.4" stroke-linecap="butt"/>
<line x1="584.40" y1="767.10" x2="584.40" y2="775.40" stroke="#000" stroke-width="1.4" stroke-linecap="butt"/>
<line x1="612.30" y1="767.10" x2="612.30" y2="775.40" stroke="#000" stroke-width="1.4" stroke-linecap="butt"/>
<line x1="640.00" y1="767.10" x2="640.00" y2="775.40" stroke="#000" stroke-width="1.4" stroke-linecap="butt"/>
<line x1="667.90" y1="767.10" x2="667.90" y2="775.40" stroke="#000" stroke-width="1.4" stroke-linecap="butt"/>
<text x="553.36" y="791.48" font-size="10.5" text-anchor="middle" transform="rotate(-35 553.36 791.48)">NS</text>
<text x="578.96" y="795.08" font-size="10.5" text-anchor="middle" transform="rotate(-35 578.96 795.08)">PGPS</text>
<text x="609.86" y="793.28" font-size="10.5" text-anchor="middle" transform="rotate(-35 609.86 793.28)">200</text>
<text x="639.56" y="793.28" font-size="10.5" text-anchor="middle" transform="rotate(-35 639.56 793.28)">400</text>
<text x="670.16" y="791.48" font-size="10.5" text-anchor="middle" transform="rotate(-35 670.16 791.48)">800</text>
<line x1="593.00" y1="808.30" x2="680.20" y2="808.30" stroke="#000" stroke-width="1.4" stroke-linecap="butt"/>
<text x="640.60" y="828.40" font-size="10" text-anchor="middle" >PGPS+</text>
<text x="643.30" y="844.80" font-size="10" text-anchor="middle" >DFO (µg/ml)</text>
<text x="484.00" y="550.20" font-size="20" text-anchor="start" stroke="#000" stroke-width="0.35">F</text>
<text x="512.3" y="675.1" font-size="10.35" text-anchor="middle" transform="rotate(-90 512.3 675.1)">Wave <tspan font-family="Liberation Serif" font-size="11.8" stroke="#1a1a1a" stroke-width="0.35">I</tspan> Latency (ms)</text>
<circle cx="556.50" cy="638.80" r="4.9" fill="#ec2a2d"/>
<circle cx="551.80" cy="649.20" r="4.9" fill="#ec2a2d"/>
<circle cx="561.30" cy="654.40" r="4.9" fill="#ec2a2d"/>
<circle cx="553.50" cy="657.00" r="4.9" fill="#ec2a2d"/>
<circle cx="558.10" cy="666.30" r="4.9" fill="#ec2a2d"/>
<circle cx="555.50" cy="668.50" r="4.9" fill="#ec2a2d"/>
<line x1="556.60" y1="644.50" x2="556.60" y2="666.40" stroke="#000" stroke-width="1.5" stroke-linecap="butt"/>
<line x1="551.50" y1="644.50" x2="561.70" y2="644.50" stroke="#000" stroke-width="1.5" stroke-linecap="butt"/>
<line x1="551.50" y1="666.40" x2="561.70" y2="666.40" stroke="#000" stroke-width="1.5" stroke-linecap="butt"/>
<line x1="546.75" y1="655.50" x2="566.45" y2="655.50" stroke="#000" stroke-width="1.5" stroke-linecap="butt"/>
<rect x="582.25" y="600.85" width="9.5" height="9.5" fill="#939499"/>
<rect x="575.75" y="606.05" width="9.5" height="9.5" fill="#939499"/>
<rect x="579.35" y="609.85" width="9.5" height="9.5" fill="#939499"/>
<rect x="584.75" y="615.25" width="9.5" height="9.5" fill="#939499"/>
<rect x="575.15" y="624.75" width="9.5" height="9.5" fill="#939499"/>
<line x1="584.40" y1="589.00" x2="584.40" y2="628.60" stroke="#000" stroke-width="1.5" stroke-linecap="butt"/>
<line x1="579.25" y1="589.00" x2="589.55" y2="589.00" stroke="#000" stroke-width="1.5" stroke-linecap="butt"/>
<line x1="579.25" y1="628.60" x2="589.55" y2="628.60" stroke="#000" stroke-width="1.5" stroke-linecap="butt"/>
<line x1="574.55" y1="608.80" x2="594.25" y2="608.80" stroke="#000" stroke-width="1.5" stroke-linecap="butt"/>
<polygon points="609.40,608.55 614.33,617.85 604.47,617.85" fill="#2253a8" stroke="#2253a8" stroke-width="0.6" stroke-linejoin="round"/>
<polygon points="615.70,605.15 620.63,614.45 610.77,614.45" fill="#2253a8" stroke="#2253a8" stroke-width="0.6" stroke-linejoin="round"/>
<polygon points="615.50,608.85 620.43,618.15 610.57,618.15" fill="#2253a8" stroke="#2253a8" stroke-width="0.6" stroke-linejoin="round"/>
<polygon points="612.00,614.85 616.93,624.15 607.07,624.15" fill="#2253a8" stroke="#2253a8" stroke-width="0.6" stroke-linejoin="round"/>
<polygon points="612.20,648.45 617.13,657.75 607.27,657.75" fill="#2253a8" stroke="#2253a8" stroke-width="0.6" stroke-linejoin="round"/>
<line x1="612.20" y1="605.00" x2="612.20" y2="636.50" stroke="#000" stroke-width="1.5" stroke-linecap="butt"/>
<line x1="607.05" y1="605.00" x2="617.35" y2="605.00" stroke="#000" stroke-width="1.5" stroke-linecap="butt"/>
<line x1="607.05" y1="636.50" x2="617.35" y2="636.50" stroke="#000" stroke-width="1.5" stroke-linecap="butt"/>
<line x1="602.35" y1="620.60" x2="622.05" y2="620.60" stroke="#000" stroke-width="1.5" stroke-linecap="butt"/>
<polygon points="644.80,625.35 649.83,615.85 639.76,615.85" fill="#6f2d97" stroke="#6f2d97" stroke-width="0.6" stroke-linejoin="round"/>
<polygon points="635.30,629.35 640.33,619.85 630.26,619.85" fill="#6f2d97" stroke="#6f2d97" stroke-width="0.6" stroke-linejoin="round"/>
<polygon points="640.30,647.75 645.33,638.25 635.26,638.25" fill="#6f2d97" stroke="#6f2d97" stroke-width="0.6" stroke-linejoin="round"/>
<polygon points="637.60,652.05 642.63,642.55 632.57,642.55" fill="#6f2d97" stroke="#6f2d97" stroke-width="0.6" stroke-linejoin="round"/>
<polygon points="643.60,652.05 648.63,642.55 638.57,642.55" fill="#6f2d97" stroke="#6f2d97" stroke-width="0.6" stroke-linejoin="round"/>
<polygon points="640.20,661.75 645.24,652.25 635.17,652.25" fill="#6f2d97" stroke="#6f2d97" stroke-width="0.6" stroke-linejoin="round"/>
<line x1="640.00" y1="626.20" x2="640.00" y2="654.60" stroke="#000" stroke-width="1.5" stroke-linecap="butt"/>
<line x1="635.05" y1="626.20" x2="644.95" y2="626.20" stroke="#000" stroke-width="1.5" stroke-linecap="butt"/>
<line x1="635.05" y1="654.60" x2="644.95" y2="654.60" stroke="#000" stroke-width="1.5" stroke-linecap="butt"/>
<line x1="630.15" y1="640.10" x2="649.85" y2="640.10" stroke="#000" stroke-width="1.5" stroke-linecap="butt"/>
<polygon points="663.30,627.30 668.50,632.50 663.30,637.70 658.10,632.50" fill="#000"/>
<polygon points="673.00,627.30 678.20,632.50 673.00,637.70 667.80,632.50" fill="#000"/>
<polygon points="664.90,637.80 670.10,643.00 664.90,648.20 659.70,643.00" fill="#000"/>
<polygon points="670.60,642.20 675.80,647.40 670.60,652.60 665.40,647.40" fill="#000"/>
<polygon points="668.00,650.00 673.20,655.20 668.00,660.40 662.80,655.20" fill="#000"/>
<line x1="668.20" y1="633.10" x2="668.20" y2="652.00" stroke="#000" stroke-width="1.5" stroke-linecap="butt"/>
<line x1="663.20" y1="633.10" x2="673.20" y2="633.10" stroke="#000" stroke-width="1.5" stroke-linecap="butt"/>
<line x1="663.20" y1="652.00" x2="673.20" y2="652.00" stroke="#000" stroke-width="1.5" stroke-linecap="butt"/>
<line x1="658.40" y1="642.20" x2="678.00" y2="642.20" stroke="#000" stroke-width="1.5" stroke-linecap="butt"/>
<line x1="556.70" y1="620.10" x2="556.70" y2="615.50" stroke="#000" stroke-width="1.9" stroke-linecap="round"/>
<line x1="556.70" y1="620.10" x2="561.07" y2="618.68" stroke="#000" stroke-width="1.9" stroke-linecap="round"/>
<line x1="556.70" y1="620.10" x2="559.40" y2="623.82" stroke="#000" stroke-width="1.9" stroke-linecap="round"/>
<line x1="556.70" y1="620.10" x2="554.00" y2="623.82" stroke="#000" stroke-width="1.9" stroke-linecap="round"/>
<line x1="556.70" y1="620.10" x2="552.33" y2="618.68" stroke="#000" stroke-width="1.9" stroke-linecap="round"/>
<line x1="640.90" y1="603.40" x2="640.90" y2="598.80" stroke="#000" stroke-width="1.9" stroke-linecap="round"/>
<line x1="640.90" y1="603.40" x2="645.27" y2="601.98" stroke="#000" stroke-width="1.9" stroke-linecap="round"/>
<line x1="640.90" y1="603.40" x2="643.60" y2="607.12" stroke="#000" stroke-width="1.9" stroke-linecap="round"/>
<line x1="640.90" y1="603.40" x2="638.20" y2="607.12" stroke="#000" stroke-width="1.9" stroke-linecap="round"/>
<line x1="640.90" y1="603.40" x2="636.53" y2="601.98" stroke="#000" stroke-width="1.9" stroke-linecap="round"/>
<line x1="668.70" y1="616.10" x2="668.70" y2="611.50" stroke="#000" stroke-width="1.9" stroke-linecap="round"/>
<line x1="668.70" y1="616.10" x2="673.07" y2="614.68" stroke="#000" stroke-width="1.9" stroke-linecap="round"/>
<line x1="668.70" y1="616.10" x2="671.40" y2="619.82" stroke="#000" stroke-width="1.9" stroke-linecap="round"/>
<line x1="668.70" y1="616.10" x2="666.00" y2="619.82" stroke="#000" stroke-width="1.9" stroke-linecap="round"/>
<line x1="668.70" y1="616.10" x2="664.33" y2="614.68" stroke="#000" stroke-width="1.9" stroke-linecap="round"/>
<text x="20.10" y="549.80" font-size="20" text-anchor="start" stroke="#000" stroke-width="0.35">E</text>
<text x="0.00" y="618.90" font-size="10" text-anchor="start" >6.00uV</text>
<line x1="5.40" y1="623.80" x2="5.40" y2="661.20" stroke="#000" stroke-width="1.4" stroke-linecap="butt"/>
<line x1="1.40" y1="627.10" x2="5.40" y2="627.10" stroke="#000" stroke-width="1.2" stroke-linecap="butt"/>
<line x1="1.40" y1="630.78" x2="5.40" y2="630.78" stroke="#000" stroke-width="1.2" stroke-linecap="butt"/>
<line x1="1.40" y1="634.46" x2="5.40" y2="634.46" stroke="#000" stroke-width="1.2" stroke-linecap="butt"/>
<line x1="1.40" y1="638.14" x2="5.40" y2="638.14" stroke="#000" stroke-width="1.2" stroke-linecap="butt"/>
<line x1="1.40" y1="641.82" x2="5.40" y2="641.82" stroke="#000" stroke-width="1.2" stroke-linecap="butt"/>
<line x1="1.40" y1="645.50" x2="5.40" y2="645.50" stroke="#000" stroke-width="1.2" stroke-linecap="butt"/>
<line x1="1.40" y1="649.18" x2="5.40" y2="649.18" stroke="#000" stroke-width="1.2" stroke-linecap="butt"/>
<line x1="1.40" y1="652.86" x2="5.40" y2="652.86" stroke="#000" stroke-width="1.2" stroke-linecap="butt"/>
<line x1="1.40" y1="656.54" x2="5.40" y2="656.54" stroke="#000" stroke-width="1.2" stroke-linecap="butt"/>
<line x1="1.40" y1="660.22" x2="5.40" y2="660.22" stroke="#000" stroke-width="1.2" stroke-linecap="butt"/>
<text x="69.20" y="612.70" font-size="10" text-anchor="middle" >NS</text>
<text x="162.30" y="612.60" font-size="10" text-anchor="middle" >PGPS</text>
<text x="346.10" y="586.40" font-size="10.35" text-anchor="middle" >PGPS+DFO (µg/ml)</text>
<line x1="246.80" y1="593.50" x2="453.20" y2="593.50" stroke="#000" stroke-width="1.4" stroke-linecap="butt"/>
<text x="256.60" y="612.70" font-size="10" text-anchor="middle" >200</text>
<text x="344.80" y="612.70" font-size="10" text-anchor="middle" >400</text>
<text x="440.60" y="612.70" font-size="10" text-anchor="middle" >800</text>
<text x="44.10" y="646.30" font-size="10" text-anchor="end" >(dB)</text>
<text x="43.50" y="662.70" font-size="10" text-anchor="end" >100</text>
<text x="43.50" y="694.20" font-size="10" text-anchor="end" >90</text>
<text x="43.50" y="725.40" font-size="10" text-anchor="end" >80</text>
<text x="43.50" y="750.50" font-size="10" text-anchor="end" >70</text>
<text x="43.50" y="773.40" font-size="10" text-anchor="end" >60</text>
<text x="43.50" y="795.40" font-size="10" text-anchor="end" >50</text>
<text x="43.50" y="817.50" font-size="10" text-anchor="end" >45</text>
<text x="43.50" y="835.00" font-size="10" text-anchor="end" >40</text>
<text x="43.50" y="853.20" font-size="10" text-anchor="end" >30</text>
<text x="143.80" y="646.30" font-size="10" text-anchor="end" >(dB)</text>
<text x="143.80" y="661.60" font-size="10" text-anchor="end" >100</text>
<text x="143.80" y="692.50" font-size="10" text-anchor="end" >95</text>
<text x="143.80" y="724.10" font-size="10" text-anchor="end" >90</text>
<text x="143.80" y="748.90" font-size="10" text-anchor="end" >85</text>
<text x="235.90" y="646.30" font-size="10" text-anchor="end" >(dB)</text>
<text x="235.90" y="661.60" font-size="10" text-anchor="end" >100</text>
<text x="235.90" y="692.50" font-size="10" text-anchor="end" >90</text>
<text x="235.90" y="724.10" font-size="10" text-anchor="end" >85</text>
<text x="235.90" y="749.00" font-size="10" text-anchor="end" >80</text>
<text x="323.90" y="646.30" font-size="10" text-anchor="end" >(dB)</text>
<text x="323.90" y="661.60" font-size="10" text-anchor="end" >100</text>
<text x="323.90" y="692.50" font-size="10" text-anchor="end" >90</text>
<text x="323.90" y="724.10" font-size="10" text-anchor="end" >80</text>
<text x="323.90" y="749.00" font-size="10" text-anchor="end" >70</text>
<text x="323.90" y="770.80" font-size="10" text-anchor="end" >65</text>
<text x="323.90" y="793.70" font-size="10" text-anchor="end" >60</text>
<text x="413.30" y="646.30" font-size="10" text-anchor="end" >(dB)</text>
<text x="413.30" y="661.60" font-size="10" text-anchor="end" >100</text>
<text x="413.30" y="692.50" font-size="10" text-anchor="end" >90</text>
<text x="413.30" y="724.10" font-size="10" text-anchor="end" >80</text>
<text x="413.30" y="749.00" font-size="10" text-anchor="end" >70</text>
<text x="413.30" y="770.80" font-size="10" text-anchor="end" >60</text>
<text x="413.30" y="793.70" font-size="10" text-anchor="end" >50</text>
<text x="413.30" y="815.90" font-size="10" text-anchor="end" >45</text>
<text x="413.30" y="833.20" font-size="10" text-anchor="end" >40</text>
<path d="M49.50,669.90 C49.76,670.00 50.57,670.64 51.10,670.50 C51.63,670.36 52.24,669.70 52.80,669.00 C53.36,668.30 54.15,667.38 54.60,666.10 C55.05,664.82 55.20,666.52 55.60,661.00 C56.00,655.48 56.67,632.56 57.10,631.60 C57.53,630.64 57.96,649.18 58.30,655.00 C58.64,660.82 58.83,669.25 59.20,668.00 C59.57,666.75 60.15,645.12 60.60,647.20 C61.05,649.28 61.55,676.20 62.00,681.00 C62.45,685.80 62.90,678.18 63.40,677.20 C63.90,676.22 64.64,675.08 65.10,674.90 C65.56,674.72 65.84,676.66 66.30,676.10 C66.76,675.54 67.54,671.78 68.00,671.40 C68.46,671.02 68.74,674.26 69.20,673.70 C69.66,673.14 70.34,667.34 70.90,667.90 C71.46,668.46 72.12,674.96 72.70,677.20 C73.28,679.44 73.94,681.90 74.50,681.90 C75.06,681.90 75.74,678.51 76.20,677.20 C76.66,675.89 76.84,674.44 77.40,673.70 C77.96,672.96 79.04,673.26 79.70,672.60 C80.36,671.94 80.84,669.70 81.50,669.60 C82.16,669.50 83.16,672.10 83.80,672.00 C84.44,671.90 84.94,669.70 85.50,669.00 C86.06,668.30 86.64,667.60 87.30,667.60 C87.96,667.60 88.94,668.78 89.60,669.00 C90.26,669.22 90.65,668.42 91.40,669.00 C92.15,669.58 93.47,672.22 94.30,672.60 C95.13,672.98 95.75,673.05 96.60,671.40 C97.45,669.75 98.75,663.05 99.60,662.30 C100.45,661.55 101.26,664.88 101.90,666.70 C102.54,668.52 103.04,672.39 103.60,673.70 C104.16,675.01 104.65,674.90 105.40,674.90 C106.15,674.90 107.84,673.89 108.30,673.70" fill="none" stroke="#000" stroke-width="1.7" stroke-linejoin="round" stroke-linecap="round"/>
<path d="M49.30,698.40 C49.59,698.90 50.56,701.26 51.10,701.50 C51.64,701.74 52.12,700.89 52.70,699.90 C53.28,698.91 54.17,696.36 54.70,695.30 C55.23,694.24 55.46,697.44 56.00,693.30 C56.54,689.16 57.60,667.43 58.10,669.40 C58.60,671.37 58.62,704.32 59.10,705.60 C59.58,706.88 60.52,677.42 61.10,677.40 C61.68,677.38 62.14,702.27 62.70,705.50 C63.26,708.73 63.91,699.10 64.60,697.60 C65.29,696.10 66.34,695.48 67.00,696.10 C67.66,696.72 68.22,700.48 68.70,701.50 C69.18,702.52 69.50,702.92 70.00,702.50 C70.50,702.08 71.22,698.50 71.80,698.90 C72.38,699.30 72.82,704.26 73.60,705.00 C74.38,705.74 75.63,704.48 76.70,703.50 C77.77,702.52 79.40,699.88 80.30,698.90 C81.20,697.92 81.66,698.22 82.30,697.40 C82.94,696.58 83.64,694.38 84.30,693.80 C84.96,693.22 85.74,693.30 86.40,693.80 C87.06,694.30 87.66,696.32 88.40,696.90 C89.14,697.48 90.26,697.16 91.00,697.40 C91.74,697.64 92.34,698.32 93.00,698.40 C93.66,698.48 94.44,698.40 95.10,697.90 C95.76,697.40 96.44,695.56 97.10,695.30 C97.76,695.04 98.54,695.80 99.20,696.30 C99.86,696.80 100.46,698.56 101.20,698.40 C101.94,698.24 103.14,695.38 103.80,695.30 C104.46,695.22 104.82,697.16 105.30,697.90 C105.78,698.64 106.30,699.90 106.80,699.90 C107.30,699.90 108.14,698.22 108.40,697.90" fill="none" stroke="#000" stroke-width="1.7" stroke-linejoin="round" stroke-linecap="round"/>
<path d="M49.30,724.50 C49.59,724.40 50.48,723.66 51.10,723.90 C51.72,724.14 52.46,726.08 53.20,726.00 C53.94,725.92 54.96,726.18 55.70,723.40 C56.44,720.62 57.22,707.86 57.80,708.60 C58.38,709.34 58.74,727.66 59.30,728.00 C59.86,728.34 60.64,710.86 61.30,710.70 C61.96,710.54 62.73,724.87 63.40,727.00 C64.07,729.13 64.72,725.31 65.50,724.00 C66.28,722.69 67.58,718.56 68.30,718.80 C69.02,719.04 69.44,724.19 70.00,725.50 C70.56,726.81 71.14,727.08 71.80,727.00 C72.46,726.92 73.40,725.00 74.10,725.00 C74.80,725.00 75.46,727.00 76.20,727.00 C76.94,727.00 77.80,725.40 78.70,725.00 C79.60,724.60 80.65,725.28 81.80,724.50 C82.95,723.72 84.76,720.60 85.90,720.10 C87.04,719.60 87.92,721.11 88.90,721.40 C89.88,721.69 91.26,721.98 92.00,721.90 C92.74,721.82 92.68,721.14 93.50,720.90 C94.32,720.66 96.03,720.16 97.10,720.40 C98.17,720.64 99.13,721.66 100.20,722.40 C101.27,723.14 102.82,724.58 103.80,725.00 C104.78,725.42 105.66,724.44 106.30,725.00 C106.94,725.56 107.56,727.94 107.80,728.50" fill="none" stroke="#000" stroke-width="1.7" stroke-linejoin="round" stroke-linecap="round"/>
<path d="M49.30,741.40 C49.59,741.62 50.40,742.34 51.10,742.80 C51.80,743.26 52.88,744.25 53.70,744.30 C54.52,744.35 55.51,745.04 56.20,743.10 C56.89,741.16 57.42,731.27 58.00,732.20 C58.58,733.13 59.18,748.96 59.80,748.90 C60.42,748.84 61.24,732.86 61.90,731.80 C62.56,730.74 63.26,740.59 63.90,742.30 C64.54,744.01 65.20,742.92 65.90,742.50 C66.60,742.08 67.72,739.65 68.30,739.70 C68.88,739.75 69.05,740.67 69.50,742.80 C69.95,744.93 70.60,751.21 71.10,753.00 C71.60,754.79 72.12,753.95 72.60,754.00 C73.08,754.05 73.44,752.92 74.10,753.30 C74.76,753.68 76.04,756.29 76.70,756.40 C77.36,756.51 77.62,755.12 78.20,754.00 C78.78,752.88 79.64,750.71 80.30,749.40 C80.96,748.09 81.66,746.54 82.30,745.80 C82.94,745.06 83.64,745.44 84.30,744.80 C84.96,744.16 85.66,742.62 86.40,741.80 C87.14,740.98 88.00,740.36 88.90,739.70 C89.80,739.04 91.18,737.62 92.00,737.70 C92.82,737.78 93.34,739.72 94.00,740.20 C94.66,740.68 95.44,740.33 96.10,740.70 C96.76,741.07 97.36,742.08 98.10,742.50 C98.84,742.92 99.88,743.09 100.70,743.30 C101.52,743.51 102.38,743.22 103.20,743.80 C104.02,744.38 104.97,746.32 105.80,746.90 C106.63,747.48 107.98,747.32 108.40,747.40" fill="none" stroke="#000" stroke-width="1.7" stroke-linejoin="round" stroke-linecap="round"/>
<path d="M49.30,769.90 C49.51,770.06 50.14,771.08 50.60,770.90 C51.06,770.72 51.70,768.88 52.20,768.80 C52.70,768.72 53.22,770.48 53.70,770.40 C54.18,770.32 54.70,768.72 55.20,768.30 C55.70,767.88 56.34,769.02 56.80,767.80 C57.26,766.58 57.57,759.80 58.10,760.70 C58.63,761.60 59.46,773.66 60.10,773.40 C60.74,773.14 61.49,759.92 62.10,759.10 C62.71,758.28 63.29,766.67 63.90,768.30 C64.51,769.93 65.13,770.16 65.90,769.30 C66.67,768.44 67.79,762.90 68.70,762.90 C69.61,762.90 70.74,768.80 71.60,769.30 C72.46,769.80 73.28,766.05 74.10,766.00 C74.92,765.95 75.71,769.03 76.70,769.00 C77.69,768.97 79.40,766.23 80.30,765.80 C81.20,765.37 81.56,766.60 82.30,766.30 C83.04,766.00 84.00,763.82 84.90,763.90 C85.80,763.98 86.84,765.94 87.90,766.80 C88.96,767.66 90.43,768.72 91.50,769.30 C92.57,769.88 93.70,769.98 94.60,770.40 C95.50,770.82 96.12,771.74 97.10,771.90 C98.08,772.06 99.80,771.40 100.70,771.40 C101.60,771.40 101.96,772.32 102.70,771.90 C103.44,771.48 104.39,769.42 105.30,768.80 C106.21,768.18 107.90,768.13 108.40,768.00" fill="none" stroke="#000" stroke-width="1.7" stroke-linejoin="round" stroke-linecap="round"/>
<path d="M49.30,794.40 C49.76,793.98 51.18,792.06 52.20,791.80 C53.22,791.54 54.69,793.70 55.70,792.80 C56.71,791.90 57.76,786.20 58.50,786.20 C59.24,786.20 59.63,793.30 60.30,792.80 C60.97,792.30 62.04,783.50 62.70,783.10 C63.36,782.70 63.79,788.91 64.40,790.30 C65.01,791.69 65.60,792.30 66.50,791.80 C67.40,791.30 69.02,786.94 70.00,787.20 C70.98,787.46 71.69,792.58 72.60,793.40 C73.51,794.22 74.80,792.14 75.70,792.30 C76.60,792.46 77.38,794.72 78.20,794.40 C79.02,794.08 79.82,790.72 80.80,790.30 C81.78,789.88 83.32,791.72 84.30,791.80 C85.28,791.88 86.07,791.20 86.90,790.80 C87.73,790.40 88.52,789.22 89.50,789.30 C90.48,789.38 91.78,791.06 93.00,791.30 C94.22,791.54 95.71,791.04 97.10,790.80 C98.49,790.56 100.55,789.64 101.70,789.80 C102.85,789.96 103.23,791.72 104.30,791.80 C105.37,791.88 107.74,790.54 108.40,790.30" fill="none" stroke="#000" stroke-width="1.7" stroke-linejoin="round" stroke-linecap="round"/>
<path d="M49.30,810.10 C49.84,810.26 51.42,811.04 52.70,811.10 C53.98,811.16 56.32,810.96 57.30,810.50 C58.28,810.04 58.24,807.50 58.80,808.20 C59.36,808.90 60.10,815.06 60.80,814.90 C61.50,814.74 62.54,807.62 63.20,807.20 C63.86,806.78 64.37,811.02 64.90,812.30 C65.43,813.58 65.60,815.44 66.50,815.20 C67.40,814.96 69.36,810.74 70.50,810.80 C71.64,810.86 72.53,815.49 73.60,815.60 C74.67,815.71 76.22,811.84 77.20,811.50 C78.18,811.16 78.96,813.53 79.70,813.50 C80.44,813.47 81.06,811.52 81.80,811.30 C82.54,811.08 83.48,812.18 84.30,812.10 C85.12,812.02 85.99,811.30 86.90,810.80 C87.81,810.30 88.86,808.76 90.00,809.00 C91.14,809.24 92.86,811.96 94.00,812.30 C95.14,812.64 96.03,811.56 97.10,811.10 C98.17,810.64 99.39,809.61 100.70,809.40 C102.01,809.19 104.07,809.58 105.30,809.80 C106.53,810.02 107.90,810.64 108.40,810.80" fill="none" stroke="#ec2a2d" stroke-width="1.7" stroke-linejoin="round" stroke-linecap="round"/>
<path d="M49.30,829.50 C49.76,829.37 51.10,829.08 52.20,828.70 C53.30,828.32 54.82,827.13 56.20,827.10 C57.58,827.07 59.65,828.77 60.80,828.50 C61.95,828.23 62.66,825.21 63.40,825.40 C64.14,825.59 64.82,828.61 65.40,829.70 C65.98,830.79 66.26,832.50 67.00,832.20 C67.74,831.90 69.10,828.01 70.00,827.80 C70.90,827.59 71.69,830.76 72.60,830.90 C73.51,831.04 74.47,828.57 75.70,828.70 C76.93,828.83 78.67,831.73 80.30,831.70 C81.93,831.67 84.52,828.74 85.90,828.50 C87.28,828.26 87.92,830.26 88.90,830.20 C89.88,830.14 91.01,828.10 92.00,828.10 C92.99,828.10 94.12,829.70 95.10,830.20 C96.08,830.70 96.96,831.54 98.10,831.20 C99.24,830.86 101.05,828.31 102.20,828.10 C103.35,827.89 104.31,829.84 105.30,829.90 C106.29,829.96 107.90,828.72 108.40,828.50" fill="none" stroke="#000" stroke-width="1.7" stroke-linejoin="round" stroke-linecap="round"/>
<path d="M49.30,846.50 C49.51,846.58 50.23,847.32 50.60,847.00 C50.97,846.68 51.22,845.60 51.60,844.50 C51.98,843.40 52.55,839.86 53.00,840.10 C53.45,840.34 53.71,845.18 54.40,846.00 C55.09,846.82 56.20,844.70 57.30,845.20 C58.40,845.70 60.00,849.13 61.30,849.10 C62.60,849.07 64.17,845.74 65.40,845.00 C66.63,844.26 68.01,844.34 69.00,844.50 C69.99,844.66 70.62,846.24 71.60,846.00 C72.58,845.76 74.00,842.66 75.10,843.00 C76.20,843.34 77.35,847.86 78.50,848.10 C79.65,848.34 81.28,844.68 82.30,844.50 C83.32,844.32 83.84,847.00 84.90,847.00 C85.96,847.00 87.68,845.06 88.90,844.50 C90.12,843.94 91.51,843.58 92.50,843.50 C93.49,843.42 94.40,843.10 95.10,844.00 C95.80,844.90 96.34,849.18 96.90,849.10 C97.46,849.02 97.83,844.48 98.60,843.50 C99.37,842.52 100.96,842.26 101.70,843.00 C102.44,843.74 102.62,848.18 103.20,848.10 C103.78,848.02 104.47,842.92 105.30,842.50 C106.13,842.08 107.90,845.02 108.40,845.50" fill="none" stroke="#000" stroke-width="1.7" stroke-linejoin="round" stroke-linecap="round"/>
<path d="M147.60,658.30 C148.00,658.35 149.33,658.74 150.10,658.60 C150.87,658.46 151.44,657.64 152.40,657.40 C153.36,657.16 155.14,657.10 156.10,657.10 C157.06,657.10 157.79,657.77 158.40,657.40 C159.01,657.03 159.42,654.56 159.90,654.80 C160.38,655.04 160.74,659.14 161.40,658.90 C162.06,658.66 163.28,653.35 164.00,653.30 C164.72,653.25 165.23,657.99 165.90,658.60 C166.57,659.21 167.59,657.21 168.20,657.10 C168.81,656.99 169.03,658.27 169.70,657.90 C170.37,657.53 171.31,654.50 172.40,654.80 C173.49,655.10 175.25,659.62 176.50,659.80 C177.75,659.98 179.24,656.38 180.20,655.90 C181.16,655.42 181.73,656.13 182.50,656.80 C183.27,657.47 184.04,660.05 185.00,660.10 C185.96,660.15 187.57,657.45 188.50,657.10 C189.43,656.75 189.71,657.85 190.80,657.90 C191.89,657.95 193.99,657.45 195.30,657.40 C196.61,657.35 197.91,657.78 199.00,657.60 C200.09,657.42 201.25,656.09 202.10,656.30 C202.95,656.51 203.42,658.48 204.30,658.90 C205.18,659.32 207.07,658.90 207.60,658.90" fill="none" stroke="#000" stroke-width="1.7" stroke-linejoin="round" stroke-linecap="round"/>
<path d="M147.60,688.00 C148.72,688.05 152.71,688.54 154.60,688.30 C156.49,688.06 158.23,686.31 159.40,686.50 C160.57,686.69 161.10,689.58 161.90,689.50 C162.70,689.42 163.39,686.24 164.40,686.00 C165.41,685.76 167.11,687.57 168.20,688.00 C169.29,688.43 170.24,688.94 171.20,688.70 C172.16,688.46 173.11,686.45 174.20,686.50 C175.29,686.55 176.56,688.70 178.00,689.00 C179.44,689.30 181.65,688.37 183.20,688.40 C184.75,688.43 186.00,689.39 187.70,689.20 C189.40,689.01 192.10,687.15 193.80,687.20 C195.50,687.25 197.10,689.37 198.30,689.50 C199.50,689.63 200.45,688.13 201.30,688.00 C202.15,687.87 202.88,688.88 203.60,688.70 C204.32,688.52 205.16,686.95 205.80,686.90 C206.44,686.85 207.31,688.16 207.60,688.40" fill="none" stroke="#000" stroke-width="1.7" stroke-linejoin="round" stroke-linecap="round"/>
<path d="M147.60,718.80 C147.98,718.88 149.14,719.38 150.00,719.30 C150.86,719.22 152.04,718.27 153.00,718.30 C153.96,718.33 155.20,719.47 156.00,719.50 C156.80,719.53 157.36,718.45 158.00,718.50 C158.64,718.55 159.36,719.96 160.00,719.80 C160.64,719.64 161.28,717.58 162.00,717.50 C162.72,717.42 163.70,719.14 164.50,719.30 C165.30,719.46 166.12,718.50 167.00,718.50 C167.88,718.50 169.04,719.35 170.00,719.30 C170.96,719.25 172.04,718.20 173.00,718.20 C173.96,718.20 175.04,719.33 176.00,719.30 C176.96,719.27 178.20,717.95 179.00,718.00 C179.80,718.05 180.20,719.55 181.00,719.60 C181.80,719.65 183.04,718.32 184.00,718.30 C184.96,718.28 186.04,719.48 187.00,719.50 C187.96,719.52 189.04,718.42 190.00,718.40 C190.96,718.38 192.04,719.38 193.00,719.40 C193.96,719.42 195.04,718.48 196.00,718.50 C196.96,718.52 198.04,719.48 199.00,719.50 C199.96,719.52 201.12,718.58 202.00,718.60 C202.88,718.62 203.70,719.62 204.50,719.60 C205.30,719.58 206.60,718.68 207.00,718.50" fill="none" stroke="#ec2a2d" stroke-width="1.7" stroke-linejoin="round" stroke-linecap="round"/>
<path d="M147.60,742.90 C147.98,743.12 149.36,743.87 150.00,744.30 C150.64,744.73 150.96,745.65 151.60,745.60 C152.24,745.55 153.14,744.34 154.00,744.00 C154.86,743.66 156.04,743.45 157.00,743.50 C157.96,743.55 159.04,744.28 160.00,744.30 C160.96,744.32 162.04,743.60 163.00,743.60 C163.96,743.60 165.04,744.33 166.00,744.30 C166.96,744.27 168.04,743.45 169.00,743.40 C169.96,743.35 170.88,744.02 172.00,744.00 C173.12,743.98 174.80,743.52 176.00,743.30 C177.20,743.08 178.54,742.42 179.50,742.60 C180.46,742.78 181.12,744.21 182.00,744.40 C182.88,744.59 184.04,743.83 185.00,743.80 C185.96,743.77 187.04,744.25 188.00,744.20 C188.96,744.15 190.04,743.53 191.00,743.50 C191.96,743.47 193.04,743.97 194.00,744.00 C194.96,744.03 196.04,743.64 197.00,743.70 C197.96,743.76 199.12,744.19 200.00,744.40 C200.88,744.61 201.78,745.10 202.50,745.00 C203.22,744.90 203.68,743.90 204.50,743.80 C205.32,743.70 207.10,744.30 207.60,744.40" fill="none" stroke="#000" stroke-width="1.7" stroke-linejoin="round" stroke-linecap="round"/>
<path d="M239.80,655.30 C240.22,655.72 241.50,657.37 242.40,657.90 C243.30,658.43 244.57,658.86 245.40,658.60 C246.23,658.34 246.96,657.31 247.60,656.30 C248.24,655.29 248.71,651.08 249.40,652.30 C250.09,653.52 251.10,664.33 251.90,663.90 C252.70,663.47 253.58,650.64 254.40,649.60 C255.22,648.56 256.15,656.20 257.00,657.40 C257.85,658.60 258.92,657.28 259.70,657.10 C260.48,656.92 261.13,656.78 261.90,656.30 C262.67,655.82 263.52,653.78 264.50,654.10 C265.48,654.42 266.96,657.95 268.00,658.30 C269.04,658.65 269.88,655.84 271.00,656.30 C272.12,656.76 273.93,660.83 275.00,661.20 C276.07,661.57 276.90,658.82 277.70,658.60 C278.50,658.38 279.15,659.85 280.00,659.80 C280.85,659.75 282.15,658.49 283.00,658.30 C283.85,658.11 284.45,658.92 285.30,658.60 C286.15,658.28 287.47,656.41 288.30,656.30 C289.13,656.19 289.54,657.69 290.50,657.90 C291.46,658.11 292.80,657.65 294.30,657.60 C295.80,657.55 299.00,657.60 299.90,657.60" fill="none" stroke="#000" stroke-width="1.7" stroke-linejoin="round" stroke-linecap="round"/>
<path d="M239.80,689.00 C240.46,688.95 242.76,689.04 243.90,688.70 C245.04,688.36 245.94,687.75 246.90,686.90 C247.86,686.05 249.05,682.68 249.90,683.40 C250.75,684.12 251.40,691.51 252.20,691.40 C253.00,691.29 254.07,683.24 254.90,682.70 C255.73,682.16 256.52,687.23 257.40,688.00 C258.28,688.77 259.26,688.06 260.40,687.50 C261.54,686.94 263.28,683.88 264.50,684.50 C265.72,685.12 267.09,690.25 268.00,691.40 C268.91,692.55 269.13,691.60 270.20,691.70 C271.27,691.80 273.61,691.76 274.70,692.00 C275.79,692.24 276.15,693.78 277.00,693.20 C277.85,692.62 278.80,689.36 280.00,688.40 C281.20,687.44 283.17,687.50 284.50,687.20 C285.83,686.90 286.97,686.50 288.30,686.50 C289.63,686.50 290.94,687.04 292.80,687.20 C294.66,687.36 298.76,687.45 299.90,687.50" fill="none" stroke="#000" stroke-width="1.7" stroke-linejoin="round" stroke-linecap="round"/>
<path d="M239.80,720.30 C240.57,720.19 242.86,720.32 244.60,719.60 C246.34,718.88 249.24,715.50 250.70,715.80 C252.16,716.10 252.87,720.97 253.70,721.50 C254.53,722.03 255.18,719.10 255.90,719.10 C256.62,719.10 257.24,721.31 258.20,721.50 C259.16,721.69 260.57,721.02 261.90,720.30 C263.23,719.58 265.04,716.87 266.50,717.00 C267.96,717.13 269.45,720.62 271.00,721.10 C272.55,721.58 274.87,720.00 276.20,720.00 C277.53,720.00 278.08,721.16 279.30,721.10 C280.52,721.04 282.60,719.60 283.80,719.60 C285.00,719.60 285.97,721.04 286.80,721.10 C287.63,721.16 288.17,720.00 289.00,720.00 C289.83,720.00 290.26,720.97 292.00,721.10 C293.74,721.23 298.64,720.85 299.90,720.80" fill="none" stroke="#ec2a2d" stroke-width="1.7" stroke-linejoin="round" stroke-linecap="round"/>
<path d="M239.80,742.20 C240.46,742.07 242.65,741.48 243.90,741.40 C245.15,741.32 246.03,741.33 247.60,741.70 C249.17,742.07 252.24,743.75 253.70,743.70 C255.16,743.65 255.50,741.72 256.70,741.40 C257.90,741.08 259.15,741.03 261.20,741.70 C263.25,742.37 267.10,745.52 269.50,745.60 C271.90,745.68 274.15,741.96 276.20,742.20 C278.25,742.44 280.84,746.86 282.30,747.10 C283.76,747.34 283.86,744.42 285.30,743.70 C286.74,742.98 288.96,742.78 291.30,742.60 C293.64,742.42 298.52,742.60 299.90,742.60" fill="none" stroke="#000" stroke-width="1.7" stroke-linejoin="round" stroke-linecap="round"/>
<path d="M328.60,661.30 C329.08,661.11 330.69,660.58 331.60,660.10 C332.51,659.62 333.45,658.30 334.30,658.30 C335.15,658.30 336.08,661.38 336.90,660.10 C337.72,658.82 338.49,648.91 339.40,650.30 C340.31,651.69 341.51,669.76 342.60,668.80 C343.69,667.84 345.19,646.04 346.20,644.30 C347.21,642.56 347.99,655.48 348.90,657.90 C349.81,660.32 351.05,658.81 351.90,659.40 C352.75,659.99 353.40,662.10 354.20,661.60 C355.00,661.10 356.05,657.39 356.90,656.30 C357.75,655.21 358.73,654.54 359.50,654.80 C360.27,655.06 360.87,656.44 361.70,657.90 C362.53,659.36 363.85,663.42 364.70,663.90 C365.55,664.38 366.22,661.80 367.00,660.90 C367.78,660.00 368.75,658.43 369.60,658.30 C370.45,658.17 371.52,659.44 372.30,660.10 C373.08,660.76 373.78,661.97 374.50,662.40 C375.22,662.83 376.08,663.04 376.80,662.80 C377.52,662.56 378.04,661.33 379.00,660.90 C379.96,660.47 381.28,660.23 382.80,660.10 C384.32,659.97 387.59,660.10 388.50,660.10" fill="none" stroke="#000" stroke-width="1.7" stroke-linejoin="round" stroke-linecap="round"/>
<path d="M328.60,691.40 C329.08,691.10 330.64,690.04 331.60,689.50 C332.56,688.96 333.75,688.18 334.60,688.00 C335.45,687.82 336.05,689.25 336.90,688.40 C337.75,687.55 338.86,681.64 339.90,682.70 C340.94,683.76 342.26,695.37 343.40,695.00 C344.54,694.63 345.99,680.56 347.00,680.40 C348.01,680.24 348.55,691.66 349.70,694.00 C350.85,696.34 352.63,695.61 354.20,695.00 C355.77,694.39 357.82,690.25 359.50,690.20 C361.18,690.15 363.13,694.70 364.70,694.70 C366.27,694.70 367.97,691.35 369.30,690.20 C370.63,689.05 371.80,687.55 373.00,687.50 C374.20,687.45 375.47,689.34 376.80,689.90 C378.13,690.46 379.43,690.82 381.30,691.00 C383.17,691.18 387.35,691.00 388.50,691.00" fill="none" stroke="#000" stroke-width="1.7" stroke-linejoin="round" stroke-linecap="round"/>
<path d="M328.60,720.00 C329.21,720.05 330.96,720.17 332.40,720.30 C333.84,720.43 336.27,721.47 337.60,720.80 C338.93,720.13 339.72,715.57 340.70,716.10 C341.68,716.63 342.55,724.58 343.70,724.10 C344.85,723.62 346.70,713.58 347.90,713.10 C349.10,712.62 349.95,719.76 351.20,721.10 C352.45,722.44 354.13,721.74 355.70,721.50 C357.27,721.26 359.32,719.36 361.00,719.60 C362.68,719.84 364.76,722.76 366.20,723.00 C367.64,723.24 368.78,721.77 370.00,721.10 C371.22,720.43 372.47,718.80 373.80,718.80 C375.13,718.80 376.99,720.86 378.30,721.10 C379.61,721.34 380.37,720.54 382.00,720.30 C383.63,720.06 387.46,719.71 388.50,719.60" fill="none" stroke="#000" stroke-width="1.7" stroke-linejoin="round" stroke-linecap="round"/>
<path d="M328.60,745.90 C329.08,746.09 330.51,747.21 331.60,747.10 C332.69,746.99 334.31,745.26 335.40,745.20 C336.49,745.14 337.31,746.70 338.40,746.70 C339.49,746.70 341.24,745.20 342.20,745.20 C343.16,745.20 343.33,747.42 344.40,746.70 C345.47,745.98 347.70,741.18 348.90,740.70 C350.10,740.22 351.00,742.92 351.90,743.70 C352.80,744.48 353.41,745.36 354.50,745.60 C355.59,745.84 357.26,745.74 358.70,745.20 C360.14,744.66 362.30,742.44 363.50,742.20 C364.70,741.96 365.16,743.06 366.20,743.70 C367.24,744.34 368.54,745.72 370.00,746.20 C371.46,746.68 373.73,746.56 375.30,746.70 C376.87,746.84 378.73,746.94 379.80,747.10 C380.87,747.26 380.61,747.70 382.00,747.70 C383.39,747.70 387.46,747.20 388.50,747.10" fill="none" stroke="#ec2a2d" stroke-width="1.7" stroke-linejoin="round" stroke-linecap="round"/>
<path d="M328.40,765.50 C328.96,765.95 330.89,768.01 331.90,768.30 C332.91,768.59 333.82,767.35 334.70,767.30 C335.58,767.25 336.07,768.43 337.40,768.00 C338.73,767.57 341.43,764.86 343.00,764.60 C344.57,764.34 345.98,765.89 347.20,766.40 C348.42,766.91 349.27,767.77 350.60,767.80 C351.93,767.83 353.84,766.68 355.50,766.60 C357.16,766.52 359.34,767.40 361.00,767.30 C362.66,767.20 364.35,766.37 365.90,766.00 C367.45,765.63 369.08,764.63 370.70,765.00 C372.32,765.37 374.54,768.08 376.00,768.30 C377.46,768.52 378.65,766.62 379.80,766.40 C380.95,766.18 381.81,766.87 383.20,766.90 C384.59,766.93 387.65,766.65 388.50,766.60" fill="none" stroke="#000" stroke-width="1.7" stroke-linejoin="round" stroke-linecap="round"/>
<path d="M328.40,789.10 C329.41,789.16 332.81,789.80 334.70,789.50 C336.59,789.20 338.31,787.20 340.20,787.20 C342.09,787.20 344.93,789.28 346.50,789.50 C348.07,789.72 348.56,788.66 350.00,788.60 C351.44,788.54 353.74,788.80 355.50,789.10 C357.26,789.40 359.45,790.44 361.00,790.50 C362.55,790.56 363.87,789.55 365.20,789.50 C366.53,789.45 367.75,790.49 369.30,790.20 C370.85,789.91 373.33,788.04 374.90,787.70 C376.47,787.36 377.82,787.65 379.10,788.10 C380.38,788.55 381.40,790.16 382.90,790.50 C384.40,790.84 387.60,790.25 388.50,790.20" fill="none" stroke="#000" stroke-width="1.7" stroke-linejoin="round" stroke-linecap="round"/>
<path d="M416.30,659.40 C416.91,659.34 419.01,659.37 420.10,659.00 C421.19,658.63 422.33,658.97 423.10,657.10 C423.87,655.23 424.29,645.86 424.90,647.30 C425.51,648.74 426.18,664.96 426.90,666.10 C427.62,667.24 428.55,655.36 429.40,654.40 C430.25,653.44 431.27,659.67 432.20,660.10 C433.13,660.53 434.13,657.53 435.20,657.10 C436.27,656.67 437.83,656.79 438.90,657.40 C439.97,658.01 441.05,660.47 441.90,660.90 C442.75,661.33 443.35,659.56 444.20,660.10 C445.05,660.64 446.24,663.93 447.20,664.30 C448.16,664.67 449.24,663.18 450.20,662.40 C451.16,661.62 452.00,659.94 453.20,659.40 C454.40,658.86 456.24,659.24 457.70,659.00 C459.16,658.76 461.08,657.90 462.30,657.90 C463.52,657.90 463.86,658.76 465.30,659.00 C466.74,659.24 469.49,659.34 471.30,659.40 C473.11,659.46 475.75,659.40 476.60,659.40" fill="none" stroke="#000" stroke-width="1.7" stroke-linejoin="round" stroke-linecap="round"/>
<path d="M416.30,686.50 C417.28,686.56 421.02,687.64 422.40,686.90 C423.78,686.16 424.12,680.76 424.90,681.90 C425.68,683.04 426.58,694.00 427.30,694.00 C428.02,694.00 428.50,682.86 429.40,681.90 C430.30,680.94 431.49,687.76 432.90,688.00 C434.31,688.24 436.76,683.40 438.20,683.40 C439.64,683.40 440.83,687.44 441.90,688.00 C442.97,688.56 443.68,686.55 444.90,686.90 C446.12,687.25 447.93,689.86 449.50,690.20 C451.07,690.54 452.89,689.35 454.70,689.00 C456.51,688.65 458.86,688.48 460.80,688.00 C462.74,687.52 464.99,686.42 466.80,686.00 C468.61,685.58 470.53,685.45 472.10,685.40 C473.67,685.35 475.88,685.65 476.60,685.70" fill="none" stroke="#000" stroke-width="1.7" stroke-linejoin="round" stroke-linecap="round"/>
<path d="M416.30,717.30 C417.39,717.35 421.58,718.03 423.10,717.60 C424.62,717.17 425.03,713.74 425.80,714.60 C426.57,715.46 427.13,722.86 427.90,723.00 C428.67,723.14 429.67,715.93 430.60,715.50 C431.53,715.07 432.44,720.06 433.70,720.30 C434.96,720.54 436.95,716.87 438.50,717.00 C440.05,717.13 442.12,720.92 443.40,721.10 C444.68,721.28 444.93,718.66 446.50,718.10 C448.07,717.54 450.91,717.60 453.20,717.60 C455.49,717.60 458.51,717.67 460.80,718.10 C463.09,718.53 465.69,720.06 467.50,720.30 C469.31,720.54 470.64,719.71 472.10,719.60 C473.56,719.49 475.88,719.60 476.60,719.60" fill="none" stroke="#000" stroke-width="1.7" stroke-linejoin="round" stroke-linecap="round"/>
<path d="M416.30,744.10 C417.52,744.15 422.33,744.83 423.90,744.40 C425.47,743.97 425.32,741.03 426.10,741.40 C426.88,741.77 428.02,746.65 428.80,746.70 C429.58,746.75 430.22,741.94 431.00,741.70 C431.78,741.46 432.20,745.12 433.70,745.20 C435.20,745.28 438.59,742.04 440.40,742.20 C442.21,742.36 443.91,745.85 445.00,746.20 C446.09,746.55 445.65,744.64 447.20,744.40 C448.75,744.16 452.52,744.70 454.70,744.70 C456.88,744.70 458.62,744.40 460.80,744.40 C462.98,744.40 465.77,744.57 468.30,744.70 C470.83,744.83 475.27,745.12 476.60,745.20" fill="none" stroke="#000" stroke-width="1.7" stroke-linejoin="round" stroke-linecap="round"/>
<path d="M416.40,766.40 C417.84,766.34 423.67,766.29 425.40,766.00 C427.13,765.71 426.61,764.23 427.20,764.60 C427.79,764.97 428.44,768.19 429.10,768.30 C429.76,768.41 430.45,765.52 431.30,765.30 C432.15,765.08 433.46,766.79 434.40,766.90 C435.34,767.01 436.21,766.48 437.20,766.00 C438.19,765.52 439.61,763.98 440.60,763.90 C441.59,763.82 442.50,764.88 443.40,765.50 C444.30,766.12 445.21,767.62 446.20,767.80 C447.19,767.98 448.16,766.74 449.60,766.60 C451.04,766.46 453.42,766.93 455.20,766.90 C456.98,766.87 458.92,766.54 460.70,766.40 C462.48,766.26 464.75,765.92 466.30,766.00 C467.85,766.08 468.74,766.76 470.40,766.90 C472.06,767.04 475.69,766.90 476.70,766.90" fill="none" stroke="#000" stroke-width="1.7" stroke-linejoin="round" stroke-linecap="round"/>
<path d="M416.40,789.10 C417.95,789.05 423.89,788.58 426.10,788.80 C428.31,789.02 429.21,790.72 430.20,790.50 C431.19,790.28 431.40,787.62 432.30,787.40 C433.20,787.18 434.81,788.70 435.80,789.10 C436.79,789.50 437.40,790.12 438.50,789.90 C439.60,789.68 441.36,787.60 442.70,787.70 C444.04,787.80 445.57,790.50 446.90,790.50 C448.23,790.50 449.78,787.80 451.00,787.70 C452.22,787.60 453.38,789.61 454.50,789.90 C455.62,790.19 456.78,789.71 458.00,789.50 C459.22,789.29 460.55,788.66 462.10,788.60 C463.65,788.54 465.36,788.97 467.70,789.10 C470.04,789.23 475.26,789.35 476.70,789.40" fill="none" stroke="#ec2a2d" stroke-width="1.7" stroke-linejoin="round" stroke-linecap="round"/>
<path d="M416.40,812.10 C417.50,812.04 421.52,811.88 423.30,811.70 C425.08,811.52 426.40,811.06 427.50,811.00 C428.60,810.94 429.21,811.48 430.20,811.30 C431.19,811.12 432.26,809.72 433.70,809.90 C435.14,810.08 437.31,812.22 439.20,812.40 C441.09,812.58 443.39,811.11 445.50,811.00 C447.61,810.89 450.08,811.36 452.40,811.70 C454.72,812.04 458.00,813.10 460.00,813.10 C462.00,813.10 463.24,811.92 464.90,811.70 C466.56,811.48 468.51,811.76 470.40,811.70 C472.29,811.64 475.69,811.36 476.70,811.30" fill="none" stroke="#000" stroke-width="1.7" stroke-linejoin="round" stroke-linecap="round"/>
<path d="M416.40,829.10 C417.50,829.05 421.43,828.77 423.30,828.80 C425.17,828.83 426.77,829.43 428.10,829.30 C429.43,829.17 429.94,828.03 431.60,828.00 C433.26,827.97 436.05,828.97 438.50,829.10 C440.95,829.23 444.45,828.80 446.90,828.80 C449.35,828.80 451.59,828.94 453.80,829.10 C456.01,829.26 458.48,829.80 460.70,829.80 C462.92,829.80 465.14,829.32 467.70,829.10 C470.26,828.88 475.26,828.51 476.70,828.40" fill="none" stroke="#000" stroke-width="1.7" stroke-linejoin="round" stroke-linecap="round"/>
<line x1="49.00" y1="861.60" x2="108.60" y2="861.60" stroke="#000" stroke-width="1.4" stroke-linecap="butt"/>
<line x1="49.00" y1="861.60" x2="49.00" y2="863.50" stroke="#000" stroke-width="1.0" stroke-linecap="butt"/>
<line x1="53.70" y1="861.60" x2="53.70" y2="863.50" stroke="#000" stroke-width="1.0" stroke-linecap="butt"/>
<line x1="58.40" y1="861.60" x2="58.40" y2="863.50" stroke="#000" stroke-width="1.0" stroke-linecap="butt"/>
<line x1="63.10" y1="861.60" x2="63.10" y2="863.50" stroke="#000" stroke-width="1.0" stroke-linecap="butt"/>
<line x1="67.80" y1="861.60" x2="67.80" y2="863.50" stroke="#000" stroke-width="1.0" stroke-linecap="butt"/>
<line x1="72.50" y1="861.60" x2="72.50" y2="863.50" stroke="#000" stroke-width="1.0" stroke-linecap="butt"/>
<line x1="77.20" y1="861.60" x2="77.20" y2="863.50" stroke="#000" stroke-width="1.0" stroke-linecap="butt"/>
<line x1="81.90" y1="861.60" x2="81.90" y2="863.50" stroke="#000" stroke-width="1.0" stroke-linecap="butt"/>
<line x1="86.60" y1="861.60" x2="86.60" y2="863.50" stroke="#000" stroke-width="1.0" stroke-linecap="butt"/>
<line x1="91.30" y1="861.60" x2="91.30" y2="863.50" stroke="#000" stroke-width="1.0" stroke-linecap="butt"/>
<line x1="96.00" y1="861.60" x2="96.00" y2="863.50" stroke="#000" stroke-width="1.0" stroke-linecap="butt"/>
<line x1="100.70" y1="861.60" x2="100.70" y2="863.50" stroke="#000" stroke-width="1.0" stroke-linecap="butt"/>
<line x1="105.40" y1="861.60" x2="105.40" y2="863.50" stroke="#000" stroke-width="1.0" stroke-linecap="butt"/>
<line x1="147.50" y1="861.60" x2="207.00" y2="861.60" stroke="#000" stroke-width="1.4" stroke-linecap="butt"/>
<line x1="147.50" y1="861.60" x2="147.50" y2="863.50" stroke="#000" stroke-width="1.0" stroke-linecap="butt"/>
<line x1="152.20" y1="861.60" x2="152.20" y2="863.50" stroke="#000" stroke-width="1.0" stroke-linecap="butt"/>
<line x1="156.90" y1="861.60" x2="156.90" y2="863.50" stroke="#000" stroke-width="1.0" stroke-linecap="butt"/>
<line x1="161.60" y1="861.60" x2="161.60" y2="863.50" stroke="#000" stroke-width="1.0" stroke-linecap="butt"/>
<line x1="166.30" y1="861.60" x2="166.30" y2="863.50" stroke="#000" stroke-width="1.0" stroke-linecap="butt"/>
<line x1="171.00" y1="861.60" x2="171.00" y2="863.50" stroke="#000" stroke-width="1.0" stroke-linecap="butt"/>
<line x1="175.70" y1="861.60" x2="175.70" y2="863.50" stroke="#000" stroke-width="1.0" stroke-linecap="butt"/>
<line x1="180.40" y1="861.60" x2="180.40" y2="863.50" stroke="#000" stroke-width="1.0" stroke-linecap="butt"/>
<line x1="185.10" y1="861.60" x2="185.10" y2="863.50" stroke="#000" stroke-width="1.0" stroke-linecap="butt"/>
<line x1="189.80" y1="861.60" x2="189.80" y2="863.50" stroke="#000" stroke-width="1.0" stroke-linecap="butt"/>
<line x1="194.50" y1="861.60" x2="194.50" y2="863.50" stroke="#000" stroke-width="1.0" stroke-linecap="butt"/>
<line x1="199.20" y1="861.60" x2="199.20" y2="863.50" stroke="#000" stroke-width="1.0" stroke-linecap="butt"/>
<line x1="203.90" y1="861.60" x2="203.90" y2="863.50" stroke="#000" stroke-width="1.0" stroke-linecap="butt"/>
<line x1="239.80" y1="861.60" x2="298.30" y2="861.60" stroke="#000" stroke-width="1.4" stroke-linecap="butt"/>
<line x1="239.80" y1="861.60" x2="239.80" y2="863.50" stroke="#000" stroke-width="1.0" stroke-linecap="butt"/>
<line x1="244.50" y1="861.60" x2="244.50" y2="863.50" stroke="#000" stroke-width="1.0" stroke-linecap="butt"/>
<line x1="249.20" y1="861.60" x2="249.20" y2="863.50" stroke="#000" stroke-width="1.0" stroke-linecap="butt"/>
<line x1="253.90" y1="861.60" x2="253.90" y2="863.50" stroke="#000" stroke-width="1.0" stroke-linecap="butt"/>
<line x1="258.60" y1="861.60" x2="258.60" y2="863.50" stroke="#000" stroke-width="1.0" stroke-linecap="butt"/>
<line x1="263.30" y1="861.60" x2="263.30" y2="863.50" stroke="#000" stroke-width="1.0" stroke-linecap="butt"/>
<line x1="268.00" y1="861.60" x2="268.00" y2="863.50" stroke="#000" stroke-width="1.0" stroke-linecap="butt"/>
<line x1="272.70" y1="861.60" x2="272.70" y2="863.50" stroke="#000" stroke-width="1.0" stroke-linecap="butt"/>
<line x1="277.40" y1="861.60" x2="277.40" y2="863.50" stroke="#000" stroke-width="1.0" stroke-linecap="butt"/>
<line x1="282.10" y1="861.60" x2="282.10" y2="863.50" stroke="#000" stroke-width="1.0" stroke-linecap="butt"/>
<line x1="286.80" y1="861.60" x2="286.80" y2="863.50" stroke="#000" stroke-width="1.0" stroke-linecap="butt"/>
<line x1="291.50" y1="861.60" x2="291.50" y2="863.50" stroke="#000" stroke-width="1.0" stroke-linecap="butt"/>
<line x1="296.20" y1="861.60" x2="296.20" y2="863.50" stroke="#000" stroke-width="1.0" stroke-linecap="butt"/>
<line x1="328.60" y1="861.60" x2="388.00" y2="861.60" stroke="#000" stroke-width="1.4" stroke-linecap="butt"/>
<line x1="328.60" y1="861.60" x2="328.60" y2="863.50" stroke="#000" stroke-width="1.0" stroke-linecap="butt"/>
<line x1="333.30" y1="861.60" x2="333.30" y2="863.50" stroke="#000" stroke-width="1.0" stroke-linecap="butt"/>
<line x1="338.00" y1="861.60" x2="338.00" y2="863.50" stroke="#000" stroke-width="1.0" stroke-linecap="butt"/>
<line x1="342.70" y1="861.60" x2="342.70" y2="863.50" stroke="#000" stroke-width="1.0" stroke-linecap="butt"/>
<line x1="347.40" y1="861.60" x2="347.40" y2="863.50" stroke="#000" stroke-width="1.0" stroke-linecap="butt"/>
<line x1="352.10" y1="861.60" x2="352.10" y2="863.50" stroke="#000" stroke-width="1.0" stroke-linecap="butt"/>
<line x1="356.80" y1="861.60" x2="356.80" y2="863.50" stroke="#000" stroke-width="1.0" stroke-linecap="butt"/>
<line x1="361.50" y1="861.60" x2="361.50" y2="863.50" stroke="#000" stroke-width="1.0" stroke-linecap="butt"/>
<line x1="366.20" y1="861.60" x2="366.20" y2="863.50" stroke="#000" stroke-width="1.0" stroke-linecap="butt"/>
<line x1="370.90" y1="861.60" x2="370.90" y2="863.50" stroke="#000" stroke-width="1.0" stroke-linecap="butt"/>
<line x1="375.60" y1="861.60" x2="375.60" y2="863.50" stroke="#000" stroke-width="1.0" stroke-linecap="butt"/>
<line x1="380.30" y1="861.60" x2="380.30" y2="863.50" stroke="#000" stroke-width="1.0" stroke-linecap="butt"/>
<line x1="385.00" y1="861.60" x2="385.00" y2="863.50" stroke="#000" stroke-width="1.0" stroke-linecap="butt"/>
<line x1="417.00" y1="861.60" x2="476.00" y2="861.60" stroke="#000" stroke-width="1.4" stroke-linecap="butt"/>
<line x1="417.00" y1="861.60" x2="417.00" y2="863.50" stroke="#000" stroke-width="1.0" stroke-linecap="butt"/>
<line x1="421.70" y1="861.60" x2="421.70" y2="863.50" stroke="#000" stroke-width="1.0" stroke-linecap="butt"/>
<line x1="426.40" y1="861.60" x2="426.40" y2="863.50" stroke="#000" stroke-width="1.0" stroke-linecap="butt"/>
<line x1="431.10" y1="861.60" x2="431.10" y2="863.50" stroke="#000" stroke-width="1.0" stroke-linecap="butt"/>
<line x1="435.80" y1="861.60" x2="435.80" y2="863.50" stroke="#000" stroke-width="1.0" stroke-linecap="butt"/>
<line x1="440.50" y1="861.60" x2="440.50" y2="863.50" stroke="#000" stroke-width="1.0" stroke-linecap="butt"/>
<line x1="445.20" y1="861.60" x2="445.20" y2="863.50" stroke="#000" stroke-width="1.0" stroke-linecap="butt"/>
<line x1="449.90" y1="861.60" x2="449.90" y2="863.50" stroke="#000" stroke-width="1.0" stroke-linecap="butt"/>
<line x1="454.60" y1="861.60" x2="454.60" y2="863.50" stroke="#000" stroke-width="1.0" stroke-linecap="butt"/>
<line x1="459.30" y1="861.60" x2="459.30" y2="863.50" stroke="#000" stroke-width="1.0" stroke-linecap="butt"/>
<line x1="464.00" y1="861.60" x2="464.00" y2="863.50" stroke="#000" stroke-width="1.0" stroke-linecap="butt"/>
<line x1="468.70" y1="861.60" x2="468.70" y2="863.50" stroke="#000" stroke-width="1.0" stroke-linecap="butt"/>
<line x1="473.40" y1="861.60" x2="473.40" y2="863.50" stroke="#000" stroke-width="1.0" stroke-linecap="butt"/>
</svg></body></html>
